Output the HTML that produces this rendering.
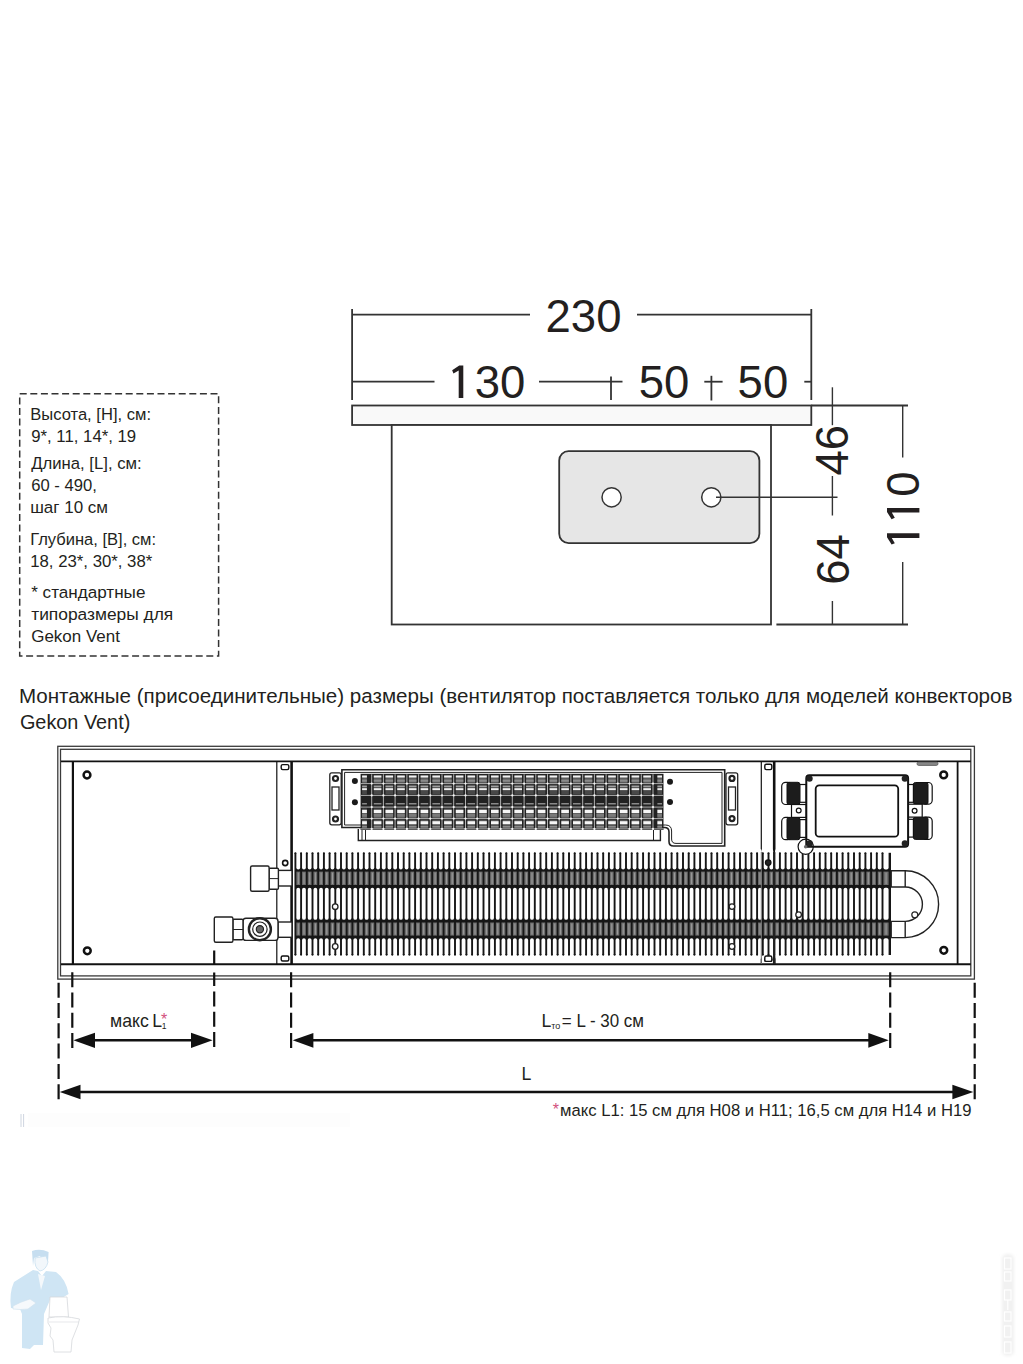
<!DOCTYPE html>
<html><head><meta charset="utf-8">
<style>
html,body{margin:0;padding:0;background:#fff;}
body{width:1023px;height:1364px;overflow:hidden;position:relative;}
svg{position:absolute;left:0;top:0;display:block;}
text{font-family:"Liberation Sans",sans-serif;fill:#231f20;}
</style></head>
<body>
<svg width="1023" height="1364" viewBox="0 0 1023 1364">
<!-- ===== TOP DIAGRAM ===== -->
<g id="top" stroke="#333" stroke-width="1.8" fill="none">
  <!-- 230 dimension -->
  <line x1="352" y1="314.6" x2="530" y2="314.6"/>
  <line x1="637" y1="314.6" x2="811.3" y2="314.6"/>
  <line x1="352.1" y1="309" x2="352.1" y2="400"/>
  <line x1="811.3" y1="309" x2="811.3" y2="400"/>
  <!-- 130 / 50 / 50 dimension -->
  <line x1="352" y1="381.7" x2="434.5" y2="381.7"/>
  <line x1="539" y1="381.7" x2="622.5" y2="381.7"/>
  <line x1="611" y1="376.6" x2="611" y2="400"/>
  <line x1="704.3" y1="381.7" x2="722.6" y2="381.7"/>
  <line x1="711.4" y1="375.8" x2="711.4" y2="400.5"/>
  <line x1="804.3" y1="381.7" x2="811.3" y2="381.7"/>
  <!-- plate -->
  <rect x="352.1" y="405.5" width="459.2" height="19.5" fill="#f9f9f9"/>
  <line x1="811.3" y1="405.5" x2="908" y2="405.5"/>
  <!-- body -->
  <rect x="391.7" y="425" width="379.3" height="199.5" fill="#fff"/>
  <line x1="776.4" y1="624.5" x2="908" y2="624.5"/>
  <!-- gray plate with holes -->
  <rect x="559.2" y="451.1" width="200.2" height="92" rx="9.4" fill="#e6e6e6"/>
  <circle cx="611.6" cy="497.3" r="9.6" fill="#fff" stroke-width="1.5"/>
  <circle cx="711.3" cy="497.3" r="9.6" fill="#fff" stroke-width="1.5"/>
  <line x1="716" y1="497.3" x2="837.5" y2="497.3" stroke-width="1.5"/>
  <!-- 46/64 dim -->
  <line x1="832.4" y1="387.3" x2="832.4" y2="425.2" stroke-width="1.4"/>
  <line x1="832.4" y1="476" x2="832.4" y2="515.5" stroke-width="1.4"/>
  <line x1="832.4" y1="601" x2="832.4" y2="624.5" stroke-width="1.4"/>
  <!-- 110 dim -->
  <line x1="902.7" y1="405.5" x2="902.7" y2="457.6" stroke-width="1.4"/>
  <line x1="902.7" y1="562" x2="902.7" y2="624.5" stroke-width="1.4"/>
</g>
<g id="topnums" font-size="45.5">
  <text x="583.5" y="331.6" text-anchor="middle">230</text>
  <text x="474.65" y="398">30</text>
  <path transform="translate(0,398)" d="M463.30 -32.4V0H458.70V-27.6L453.45 -24.6L452.15 -27.8L459.25 -32.4Z" fill="#231f20"/>
  <text x="664" y="398.4" text-anchor="middle">50</text>
  <text x="762.9" y="398.4" text-anchor="middle">50</text>
  <text transform="translate(848.3,450.2) rotate(-90)" text-anchor="middle">46</text>
  <text transform="translate(849,559.4) rotate(-90)" text-anchor="middle">64</text>
  <g transform="translate(919.4,509.3) rotate(-90)"><text x="12.65" y="0">0</text><path d="M-24.00 -32.4V0H-28.60V-27.6L-33.85 -24.6L-35.15 -27.8L-28.05 -32.4ZM1.30 -32.4V0H-3.30V-27.6L-8.55 -24.6L-9.85 -27.8L-2.75 -32.4Z" fill="#231f20"/></g>
</g>

<!-- ===== INFO BOX ===== -->
<rect x="19.7" y="393.8" width="198.9" height="262.2" fill="none" stroke="#333" stroke-width="1.5" stroke-dasharray="7 3.6"/>
<g id="info" font-size="16.3">
  <text id="i0" x="30.2" y="419.7" textLength="120.8" lengthAdjust="spacingAndGlyphs">Высота, [H], см:</text>
  <text id="i1" x="31.2" y="441.6" textLength="105.0" lengthAdjust="spacingAndGlyphs">9*, 11, 14*, 19</text>
  <text id="i2" x="31.2" y="468.5" textLength="110.5" lengthAdjust="spacingAndGlyphs">Длина, [L], см:</text>
  <text id="i3" x="31.2" y="490.7" textLength="65.6" lengthAdjust="spacingAndGlyphs">60 - 490,</text>
  <text id="i4" x="30.2" y="512.6" textLength="77.8" lengthAdjust="spacingAndGlyphs">шаг 10 см</text>
  <text id="i5" x="30.2" y="545" textLength="125.9" lengthAdjust="spacingAndGlyphs">Глубина, [B], см:</text>
  <text id="i6" x="30.2" y="566.9" textLength="122.1" lengthAdjust="spacingAndGlyphs">18, 23*, 30*, 38*</text>
  <text id="i7" x="31.2" y="597.7" textLength="114.2" lengthAdjust="spacingAndGlyphs">* стандартные</text>
  <text id="i8" x="31.2" y="619.6" textLength="142.1" lengthAdjust="spacingAndGlyphs">типоразмеры для</text>
  <text id="i9" x="31.2" y="641.7" textLength="88.7" lengthAdjust="spacingAndGlyphs">Gekon Vent</text>
</g>

<!-- ===== CAPTION ===== -->
<g id="caption" font-size="20.5">
  <text id="c0" x="18.9" y="703.3" textLength="993.5" lengthAdjust="spacingAndGlyphs">Монтажные (присоединительные) размеры (вентилятор поставляется только для моделей конвекторов</text>
  <text id="c1" x="19.9" y="729.3" textLength="110.4" lengthAdjust="spacingAndGlyphs">Gekon Vent)</text>
</g>

<!-- ===== BOTTOM DIAGRAM ===== -->
<g id="frame" fill="none" stroke="#3a3a3a" stroke-width="1.3">
  <rect x="57.8" y="746.3" width="916.6" height="232.8"/>
  <rect x="60.5" y="749.3" width="910.3" height="226.6"/>
</g>
<g id="panel" fill="none" stroke="#111">
  <line x1="61" y1="761.3" x2="970.8" y2="761.3" stroke-width="1.8"/>
  <line x1="61" y1="964.2" x2="970.8" y2="964.2" stroke-width="2"/>
  <line x1="72.9" y1="761.3" x2="72.9" y2="964.2" stroke-width="2.2"/>
  <line x1="957.6" y1="761.3" x2="957.6" y2="964.2" stroke-width="1.8"/>
  <!-- left bracket strip -->
  <line x1="276.8" y1="761.3" x2="276.8" y2="964.2" stroke-width="1.2"/>
  <line x1="291.6" y1="761.3" x2="291.6" y2="964.2" stroke-width="2.6"/>
  <rect x="281.2" y="764.6" width="7.6" height="5" rx="1.5" stroke-width="1.4"/>
  <rect x="281.2" y="956" width="7.6" height="5" rx="1.5" stroke-width="1.4"/>
  <!-- right bracket strip -->
  <line x1="761.3" y1="761.3" x2="761.3" y2="964.2" stroke-width="1.2"/>
  <line x1="774.2" y1="761.3" x2="774.2" y2="964.2" stroke-width="2.6"/>
  <rect x="764.8" y="764.2" width="7" height="5.4" rx="1.5" stroke-width="1.4"/>
  <rect x="764.8" y="956" width="7" height="5.4" rx="1.5" stroke-width="1.4"/>
  <!-- right top slot -->
  <rect x="917" y="762" width="21" height="3.4" rx="1.7" fill="#888" stroke="#555" stroke-width="0.8"/>
</g>
<!-- screws -->
<g fill="#fff" stroke="#111" stroke-width="2.5">
  <circle cx="87" cy="775" r="3.4"/>
  <circle cx="87.3" cy="950.8" r="3.4"/>
  <circle cx="943.7" cy="774.9" r="3.4"/>
  <circle cx="943.8" cy="950.3" r="3.4"/>
</g>

<!-- ===== FAN UNIT ===== -->
<g id="fan" fill="none" stroke="#222" stroke-width="1.3">
  <!-- left bracket -->
  <rect x="329.8" y="772.8" width="11.4" height="52" rx="2" fill="#fff"/>
  <rect x="332" y="787" width="7" height="23" fill="#fff"/>
  <circle cx="335.5" cy="778.5" r="2.5" stroke-width="2.2" fill="#fff"/>
  <circle cx="335.5" cy="819" r="2.5" stroke-width="2.2" fill="#fff"/>
  <!-- right bracket -->
  <rect x="726" y="772.8" width="11.7" height="52" rx="2" fill="#fff"/>
  <rect x="728.5" y="787" width="7" height="23" fill="#fff"/>
  <circle cx="732" cy="778.4" r="2.5" stroke-width="2.2" fill="#fff"/>
  <circle cx="732" cy="818.6" r="2.5" stroke-width="2.2" fill="#fff"/>
  <!-- housing outline -->
  <path d="M341.9 769.8H724.7V846H673.5Q669 846 669 841.5V832Q669 827.5 664.5 827.5H341.9Z" fill="#fff" stroke-width="1.6"/>
  <path d="M344.6 772.4H722V843.4H676Q671.6 843.4 671.6 839V831Q671.6 825 665.5 825H344.6Z" stroke-width="1"/>
  <!-- tray -->
  <path d="M358.3 829V840.5H660.4V829" fill="#fff" stroke-width="1.4"/>
  <line x1="362" y1="829" x2="362" y2="840.5" stroke-width="1"/>
  <line x1="365.5" y1="829" x2="365.5" y2="840.5" stroke-width="1"/>
  <line x1="653.5" y1="829" x2="653.5" y2="840.5" stroke-width="1"/>
</g>
<rect x="360.6" y="773.8" width="302.9" height="56.2" fill="#222"/>
<g><rect x="362.1" y="775.0" width="4.8" height="8.0" fill="#5a5a5a"/><rect x="362.1" y="784.8" width="4.8" height="9.6" fill="#484848"/><rect x="362.1" y="808.6" width="4.8" height="9.4" fill="#5a5a5a"/><rect x="362.1" y="819.8" width="4.8" height="8.6" fill="#555"/><rect x="362.1" y="775.6" width="4.8" height="1.9" fill="#f2f2f2"/><rect x="362.1" y="779.6" width="4.8" height="2.2" fill="#8a8a8a"/><rect x="362.1" y="785.7" width="4.8" height="1.5" fill="#a0a0a0"/><rect x="362.1" y="788.2" width="4.8" height="1.9" fill="#eeeeee"/><rect x="362.1" y="803.0" width="4.8" height="1.5" fill="#8a8a8a"/><rect x="362.1" y="809.9" width="4.8" height="3.1" fill="#f6f6f6"/><rect x="362.1" y="813.8" width="4.8" height="3.0" fill="#7a7a7a"/><rect x="362.1" y="821.2" width="4.8" height="3.0" fill="#f6f6f6"/><rect x="362.1" y="826.0" width="4.8" height="1.5" fill="#8a8a8a"/><rect x="373.8" y="775.0" width="7.6" height="8.0" fill="#5a5a5a"/><rect x="373.8" y="784.8" width="7.6" height="9.6" fill="#484848"/><rect x="373.8" y="808.6" width="7.6" height="9.4" fill="#5a5a5a"/><rect x="373.8" y="819.8" width="7.6" height="8.6" fill="#555"/><rect x="373.8" y="775.6" width="7.6" height="1.9" fill="#f2f2f2"/><rect x="373.8" y="779.6" width="7.6" height="2.2" fill="#8a8a8a"/><rect x="373.8" y="785.7" width="7.6" height="1.5" fill="#a0a0a0"/><rect x="373.8" y="788.2" width="7.6" height="1.9" fill="#eeeeee"/><rect x="373.8" y="803.0" width="7.6" height="1.5" fill="#8a8a8a"/><rect x="373.8" y="809.9" width="7.6" height="3.1" fill="#f6f6f6"/><rect x="373.8" y="813.8" width="7.6" height="3.0" fill="#7a7a7a"/><rect x="373.8" y="821.2" width="7.6" height="3.0" fill="#f6f6f6"/><rect x="373.8" y="826.0" width="7.6" height="1.5" fill="#8a8a8a"/><rect x="385.5" y="775.0" width="7.6" height="8.0" fill="#5a5a5a"/><rect x="385.5" y="784.8" width="7.6" height="9.6" fill="#484848"/><rect x="385.5" y="808.6" width="7.6" height="9.4" fill="#5a5a5a"/><rect x="385.5" y="819.8" width="7.6" height="8.6" fill="#555"/><rect x="385.5" y="775.6" width="7.6" height="1.9" fill="#f2f2f2"/><rect x="385.5" y="779.6" width="7.6" height="2.2" fill="#8a8a8a"/><rect x="385.5" y="785.7" width="7.6" height="1.5" fill="#a0a0a0"/><rect x="385.5" y="788.2" width="7.6" height="1.9" fill="#eeeeee"/><rect x="385.5" y="803.0" width="7.6" height="1.5" fill="#8a8a8a"/><rect x="385.5" y="809.9" width="7.6" height="3.1" fill="#f6f6f6"/><rect x="385.5" y="813.8" width="7.6" height="3.0" fill="#7a7a7a"/><rect x="385.5" y="821.2" width="7.6" height="3.0" fill="#f6f6f6"/><rect x="385.5" y="826.0" width="7.6" height="1.5" fill="#8a8a8a"/><rect x="397.2" y="775.0" width="7.6" height="8.0" fill="#5a5a5a"/><rect x="397.2" y="784.8" width="7.6" height="9.6" fill="#484848"/><rect x="397.2" y="808.6" width="7.6" height="9.4" fill="#5a5a5a"/><rect x="397.2" y="819.8" width="7.6" height="8.6" fill="#555"/><rect x="397.2" y="775.6" width="7.6" height="1.9" fill="#f2f2f2"/><rect x="397.2" y="779.6" width="7.6" height="2.2" fill="#8a8a8a"/><rect x="397.2" y="785.7" width="7.6" height="1.5" fill="#a0a0a0"/><rect x="397.2" y="788.2" width="7.6" height="1.9" fill="#eeeeee"/><rect x="397.2" y="803.0" width="7.6" height="1.5" fill="#8a8a8a"/><rect x="397.2" y="809.9" width="7.6" height="3.1" fill="#f6f6f6"/><rect x="397.2" y="813.8" width="7.6" height="3.0" fill="#7a7a7a"/><rect x="397.2" y="821.2" width="7.6" height="3.0" fill="#f6f6f6"/><rect x="397.2" y="826.0" width="7.6" height="1.5" fill="#8a8a8a"/><rect x="408.9" y="775.0" width="7.6" height="8.0" fill="#5a5a5a"/><rect x="408.9" y="784.8" width="7.6" height="9.6" fill="#484848"/><rect x="408.9" y="808.6" width="7.6" height="9.4" fill="#5a5a5a"/><rect x="408.9" y="819.8" width="7.6" height="8.6" fill="#555"/><rect x="408.9" y="775.6" width="7.6" height="1.9" fill="#f2f2f2"/><rect x="408.9" y="779.6" width="7.6" height="2.2" fill="#8a8a8a"/><rect x="408.9" y="785.7" width="7.6" height="1.5" fill="#a0a0a0"/><rect x="408.9" y="788.2" width="7.6" height="1.9" fill="#eeeeee"/><rect x="408.9" y="803.0" width="7.6" height="1.5" fill="#8a8a8a"/><rect x="408.9" y="809.9" width="7.6" height="3.1" fill="#f6f6f6"/><rect x="408.9" y="813.8" width="7.6" height="3.0" fill="#7a7a7a"/><rect x="408.9" y="821.2" width="7.6" height="3.0" fill="#f6f6f6"/><rect x="408.9" y="826.0" width="7.6" height="1.5" fill="#8a8a8a"/><rect x="420.6" y="775.0" width="7.6" height="8.0" fill="#5a5a5a"/><rect x="420.6" y="784.8" width="7.6" height="9.6" fill="#484848"/><rect x="420.6" y="808.6" width="7.6" height="9.4" fill="#5a5a5a"/><rect x="420.6" y="819.8" width="7.6" height="8.6" fill="#555"/><rect x="420.6" y="775.6" width="7.6" height="1.9" fill="#f2f2f2"/><rect x="420.6" y="779.6" width="7.6" height="2.2" fill="#8a8a8a"/><rect x="420.6" y="785.7" width="7.6" height="1.5" fill="#a0a0a0"/><rect x="420.6" y="788.2" width="7.6" height="1.9" fill="#eeeeee"/><rect x="420.6" y="803.0" width="7.6" height="1.5" fill="#8a8a8a"/><rect x="420.6" y="809.9" width="7.6" height="3.1" fill="#f6f6f6"/><rect x="420.6" y="813.8" width="7.6" height="3.0" fill="#7a7a7a"/><rect x="420.6" y="821.2" width="7.6" height="3.0" fill="#f6f6f6"/><rect x="420.6" y="826.0" width="7.6" height="1.5" fill="#8a8a8a"/><rect x="432.4" y="775.0" width="7.6" height="8.0" fill="#5a5a5a"/><rect x="432.4" y="784.8" width="7.6" height="9.6" fill="#484848"/><rect x="432.4" y="808.6" width="7.6" height="9.4" fill="#5a5a5a"/><rect x="432.4" y="819.8" width="7.6" height="8.6" fill="#555"/><rect x="432.4" y="775.6" width="7.6" height="1.9" fill="#f2f2f2"/><rect x="432.4" y="779.6" width="7.6" height="2.2" fill="#8a8a8a"/><rect x="432.4" y="785.7" width="7.6" height="1.5" fill="#a0a0a0"/><rect x="432.4" y="788.2" width="7.6" height="1.9" fill="#eeeeee"/><rect x="432.4" y="803.0" width="7.6" height="1.5" fill="#8a8a8a"/><rect x="432.4" y="809.9" width="7.6" height="3.1" fill="#f6f6f6"/><rect x="432.4" y="813.8" width="7.6" height="3.0" fill="#7a7a7a"/><rect x="432.4" y="821.2" width="7.6" height="3.0" fill="#f6f6f6"/><rect x="432.4" y="826.0" width="7.6" height="1.5" fill="#8a8a8a"/><rect x="444.1" y="775.0" width="7.6" height="8.0" fill="#5a5a5a"/><rect x="444.1" y="784.8" width="7.6" height="9.6" fill="#484848"/><rect x="444.1" y="808.6" width="7.6" height="9.4" fill="#5a5a5a"/><rect x="444.1" y="819.8" width="7.6" height="8.6" fill="#555"/><rect x="444.1" y="775.6" width="7.6" height="1.9" fill="#f2f2f2"/><rect x="444.1" y="779.6" width="7.6" height="2.2" fill="#8a8a8a"/><rect x="444.1" y="785.7" width="7.6" height="1.5" fill="#a0a0a0"/><rect x="444.1" y="788.2" width="7.6" height="1.9" fill="#eeeeee"/><rect x="444.1" y="803.0" width="7.6" height="1.5" fill="#8a8a8a"/><rect x="444.1" y="809.9" width="7.6" height="3.1" fill="#f6f6f6"/><rect x="444.1" y="813.8" width="7.6" height="3.0" fill="#7a7a7a"/><rect x="444.1" y="821.2" width="7.6" height="3.0" fill="#f6f6f6"/><rect x="444.1" y="826.0" width="7.6" height="1.5" fill="#8a8a8a"/><rect x="455.8" y="775.0" width="7.6" height="8.0" fill="#5a5a5a"/><rect x="455.8" y="784.8" width="7.6" height="9.6" fill="#484848"/><rect x="455.8" y="808.6" width="7.6" height="9.4" fill="#5a5a5a"/><rect x="455.8" y="819.8" width="7.6" height="8.6" fill="#555"/><rect x="455.8" y="775.6" width="7.6" height="1.9" fill="#f2f2f2"/><rect x="455.8" y="779.6" width="7.6" height="2.2" fill="#8a8a8a"/><rect x="455.8" y="785.7" width="7.6" height="1.5" fill="#a0a0a0"/><rect x="455.8" y="788.2" width="7.6" height="1.9" fill="#eeeeee"/><rect x="455.8" y="803.0" width="7.6" height="1.5" fill="#8a8a8a"/><rect x="455.8" y="809.9" width="7.6" height="3.1" fill="#f6f6f6"/><rect x="455.8" y="813.8" width="7.6" height="3.0" fill="#7a7a7a"/><rect x="455.8" y="821.2" width="7.6" height="3.0" fill="#f6f6f6"/><rect x="455.8" y="826.0" width="7.6" height="1.5" fill="#8a8a8a"/><rect x="467.5" y="775.0" width="7.6" height="8.0" fill="#5a5a5a"/><rect x="467.5" y="784.8" width="7.6" height="9.6" fill="#484848"/><rect x="467.5" y="808.6" width="7.6" height="9.4" fill="#5a5a5a"/><rect x="467.5" y="819.8" width="7.6" height="8.6" fill="#555"/><rect x="467.5" y="775.6" width="7.6" height="1.9" fill="#f2f2f2"/><rect x="467.5" y="779.6" width="7.6" height="2.2" fill="#8a8a8a"/><rect x="467.5" y="785.7" width="7.6" height="1.5" fill="#a0a0a0"/><rect x="467.5" y="788.2" width="7.6" height="1.9" fill="#eeeeee"/><rect x="467.5" y="803.0" width="7.6" height="1.5" fill="#8a8a8a"/><rect x="467.5" y="809.9" width="7.6" height="3.1" fill="#f6f6f6"/><rect x="467.5" y="813.8" width="7.6" height="3.0" fill="#7a7a7a"/><rect x="467.5" y="821.2" width="7.6" height="3.0" fill="#f6f6f6"/><rect x="467.5" y="826.0" width="7.6" height="1.5" fill="#8a8a8a"/><rect x="479.2" y="775.0" width="7.6" height="8.0" fill="#5a5a5a"/><rect x="479.2" y="784.8" width="7.6" height="9.6" fill="#484848"/><rect x="479.2" y="808.6" width="7.6" height="9.4" fill="#5a5a5a"/><rect x="479.2" y="819.8" width="7.6" height="8.6" fill="#555"/><rect x="479.2" y="775.6" width="7.6" height="1.9" fill="#f2f2f2"/><rect x="479.2" y="779.6" width="7.6" height="2.2" fill="#8a8a8a"/><rect x="479.2" y="785.7" width="7.6" height="1.5" fill="#a0a0a0"/><rect x="479.2" y="788.2" width="7.6" height="1.9" fill="#eeeeee"/><rect x="479.2" y="803.0" width="7.6" height="1.5" fill="#8a8a8a"/><rect x="479.2" y="809.9" width="7.6" height="3.1" fill="#f6f6f6"/><rect x="479.2" y="813.8" width="7.6" height="3.0" fill="#7a7a7a"/><rect x="479.2" y="821.2" width="7.6" height="3.0" fill="#f6f6f6"/><rect x="479.2" y="826.0" width="7.6" height="1.5" fill="#8a8a8a"/><rect x="491.0" y="775.0" width="7.6" height="8.0" fill="#5a5a5a"/><rect x="491.0" y="784.8" width="7.6" height="9.6" fill="#484848"/><rect x="491.0" y="808.6" width="7.6" height="9.4" fill="#5a5a5a"/><rect x="491.0" y="819.8" width="7.6" height="8.6" fill="#555"/><rect x="491.0" y="775.6" width="7.6" height="1.9" fill="#f2f2f2"/><rect x="491.0" y="779.6" width="7.6" height="2.2" fill="#8a8a8a"/><rect x="491.0" y="785.7" width="7.6" height="1.5" fill="#a0a0a0"/><rect x="491.0" y="788.2" width="7.6" height="1.9" fill="#eeeeee"/><rect x="491.0" y="803.0" width="7.6" height="1.5" fill="#8a8a8a"/><rect x="491.0" y="809.9" width="7.6" height="3.1" fill="#f6f6f6"/><rect x="491.0" y="813.8" width="7.6" height="3.0" fill="#7a7a7a"/><rect x="491.0" y="821.2" width="7.6" height="3.0" fill="#f6f6f6"/><rect x="491.0" y="826.0" width="7.6" height="1.5" fill="#8a8a8a"/><rect x="502.7" y="775.0" width="7.6" height="8.0" fill="#5a5a5a"/><rect x="502.7" y="784.8" width="7.6" height="9.6" fill="#484848"/><rect x="502.7" y="808.6" width="7.6" height="9.4" fill="#5a5a5a"/><rect x="502.7" y="819.8" width="7.6" height="8.6" fill="#555"/><rect x="502.7" y="775.6" width="7.6" height="1.9" fill="#f2f2f2"/><rect x="502.7" y="779.6" width="7.6" height="2.2" fill="#8a8a8a"/><rect x="502.7" y="785.7" width="7.6" height="1.5" fill="#a0a0a0"/><rect x="502.7" y="788.2" width="7.6" height="1.9" fill="#eeeeee"/><rect x="502.7" y="803.0" width="7.6" height="1.5" fill="#8a8a8a"/><rect x="502.7" y="809.9" width="7.6" height="3.1" fill="#f6f6f6"/><rect x="502.7" y="813.8" width="7.6" height="3.0" fill="#7a7a7a"/><rect x="502.7" y="821.2" width="7.6" height="3.0" fill="#f6f6f6"/><rect x="502.7" y="826.0" width="7.6" height="1.5" fill="#8a8a8a"/><rect x="514.4" y="775.0" width="7.6" height="8.0" fill="#5a5a5a"/><rect x="514.4" y="784.8" width="7.6" height="9.6" fill="#484848"/><rect x="514.4" y="808.6" width="7.6" height="9.4" fill="#5a5a5a"/><rect x="514.4" y="819.8" width="7.6" height="8.6" fill="#555"/><rect x="514.4" y="775.6" width="7.6" height="1.9" fill="#f2f2f2"/><rect x="514.4" y="779.6" width="7.6" height="2.2" fill="#8a8a8a"/><rect x="514.4" y="785.7" width="7.6" height="1.5" fill="#a0a0a0"/><rect x="514.4" y="788.2" width="7.6" height="1.9" fill="#eeeeee"/><rect x="514.4" y="803.0" width="7.6" height="1.5" fill="#8a8a8a"/><rect x="514.4" y="809.9" width="7.6" height="3.1" fill="#f6f6f6"/><rect x="514.4" y="813.8" width="7.6" height="3.0" fill="#7a7a7a"/><rect x="514.4" y="821.2" width="7.6" height="3.0" fill="#f6f6f6"/><rect x="514.4" y="826.0" width="7.6" height="1.5" fill="#8a8a8a"/><rect x="526.1" y="775.0" width="7.6" height="8.0" fill="#5a5a5a"/><rect x="526.1" y="784.8" width="7.6" height="9.6" fill="#484848"/><rect x="526.1" y="808.6" width="7.6" height="9.4" fill="#5a5a5a"/><rect x="526.1" y="819.8" width="7.6" height="8.6" fill="#555"/><rect x="526.1" y="775.6" width="7.6" height="1.9" fill="#f2f2f2"/><rect x="526.1" y="779.6" width="7.6" height="2.2" fill="#8a8a8a"/><rect x="526.1" y="785.7" width="7.6" height="1.5" fill="#a0a0a0"/><rect x="526.1" y="788.2" width="7.6" height="1.9" fill="#eeeeee"/><rect x="526.1" y="803.0" width="7.6" height="1.5" fill="#8a8a8a"/><rect x="526.1" y="809.9" width="7.6" height="3.1" fill="#f6f6f6"/><rect x="526.1" y="813.8" width="7.6" height="3.0" fill="#7a7a7a"/><rect x="526.1" y="821.2" width="7.6" height="3.0" fill="#f6f6f6"/><rect x="526.1" y="826.0" width="7.6" height="1.5" fill="#8a8a8a"/><rect x="537.8" y="775.0" width="7.6" height="8.0" fill="#5a5a5a"/><rect x="537.8" y="784.8" width="7.6" height="9.6" fill="#484848"/><rect x="537.8" y="808.6" width="7.6" height="9.4" fill="#5a5a5a"/><rect x="537.8" y="819.8" width="7.6" height="8.6" fill="#555"/><rect x="537.8" y="775.6" width="7.6" height="1.9" fill="#f2f2f2"/><rect x="537.8" y="779.6" width="7.6" height="2.2" fill="#8a8a8a"/><rect x="537.8" y="785.7" width="7.6" height="1.5" fill="#a0a0a0"/><rect x="537.8" y="788.2" width="7.6" height="1.9" fill="#eeeeee"/><rect x="537.8" y="803.0" width="7.6" height="1.5" fill="#8a8a8a"/><rect x="537.8" y="809.9" width="7.6" height="3.1" fill="#f6f6f6"/><rect x="537.8" y="813.8" width="7.6" height="3.0" fill="#7a7a7a"/><rect x="537.8" y="821.2" width="7.6" height="3.0" fill="#f6f6f6"/><rect x="537.8" y="826.0" width="7.6" height="1.5" fill="#8a8a8a"/><rect x="549.6" y="775.0" width="7.6" height="8.0" fill="#5a5a5a"/><rect x="549.6" y="784.8" width="7.6" height="9.6" fill="#484848"/><rect x="549.6" y="808.6" width="7.6" height="9.4" fill="#5a5a5a"/><rect x="549.6" y="819.8" width="7.6" height="8.6" fill="#555"/><rect x="549.6" y="775.6" width="7.6" height="1.9" fill="#f2f2f2"/><rect x="549.6" y="779.6" width="7.6" height="2.2" fill="#8a8a8a"/><rect x="549.6" y="785.7" width="7.6" height="1.5" fill="#a0a0a0"/><rect x="549.6" y="788.2" width="7.6" height="1.9" fill="#eeeeee"/><rect x="549.6" y="803.0" width="7.6" height="1.5" fill="#8a8a8a"/><rect x="549.6" y="809.9" width="7.6" height="3.1" fill="#f6f6f6"/><rect x="549.6" y="813.8" width="7.6" height="3.0" fill="#7a7a7a"/><rect x="549.6" y="821.2" width="7.6" height="3.0" fill="#f6f6f6"/><rect x="549.6" y="826.0" width="7.6" height="1.5" fill="#8a8a8a"/><rect x="561.3" y="775.0" width="7.6" height="8.0" fill="#5a5a5a"/><rect x="561.3" y="784.8" width="7.6" height="9.6" fill="#484848"/><rect x="561.3" y="808.6" width="7.6" height="9.4" fill="#5a5a5a"/><rect x="561.3" y="819.8" width="7.6" height="8.6" fill="#555"/><rect x="561.3" y="775.6" width="7.6" height="1.9" fill="#f2f2f2"/><rect x="561.3" y="779.6" width="7.6" height="2.2" fill="#8a8a8a"/><rect x="561.3" y="785.7" width="7.6" height="1.5" fill="#a0a0a0"/><rect x="561.3" y="788.2" width="7.6" height="1.9" fill="#eeeeee"/><rect x="561.3" y="803.0" width="7.6" height="1.5" fill="#8a8a8a"/><rect x="561.3" y="809.9" width="7.6" height="3.1" fill="#f6f6f6"/><rect x="561.3" y="813.8" width="7.6" height="3.0" fill="#7a7a7a"/><rect x="561.3" y="821.2" width="7.6" height="3.0" fill="#f6f6f6"/><rect x="561.3" y="826.0" width="7.6" height="1.5" fill="#8a8a8a"/><rect x="573.0" y="775.0" width="7.6" height="8.0" fill="#5a5a5a"/><rect x="573.0" y="784.8" width="7.6" height="9.6" fill="#484848"/><rect x="573.0" y="808.6" width="7.6" height="9.4" fill="#5a5a5a"/><rect x="573.0" y="819.8" width="7.6" height="8.6" fill="#555"/><rect x="573.0" y="775.6" width="7.6" height="1.9" fill="#f2f2f2"/><rect x="573.0" y="779.6" width="7.6" height="2.2" fill="#8a8a8a"/><rect x="573.0" y="785.7" width="7.6" height="1.5" fill="#a0a0a0"/><rect x="573.0" y="788.2" width="7.6" height="1.9" fill="#eeeeee"/><rect x="573.0" y="803.0" width="7.6" height="1.5" fill="#8a8a8a"/><rect x="573.0" y="809.9" width="7.6" height="3.1" fill="#f6f6f6"/><rect x="573.0" y="813.8" width="7.6" height="3.0" fill="#7a7a7a"/><rect x="573.0" y="821.2" width="7.6" height="3.0" fill="#f6f6f6"/><rect x="573.0" y="826.0" width="7.6" height="1.5" fill="#8a8a8a"/><rect x="584.7" y="775.0" width="7.6" height="8.0" fill="#5a5a5a"/><rect x="584.7" y="784.8" width="7.6" height="9.6" fill="#484848"/><rect x="584.7" y="808.6" width="7.6" height="9.4" fill="#5a5a5a"/><rect x="584.7" y="819.8" width="7.6" height="8.6" fill="#555"/><rect x="584.7" y="775.6" width="7.6" height="1.9" fill="#f2f2f2"/><rect x="584.7" y="779.6" width="7.6" height="2.2" fill="#8a8a8a"/><rect x="584.7" y="785.7" width="7.6" height="1.5" fill="#a0a0a0"/><rect x="584.7" y="788.2" width="7.6" height="1.9" fill="#eeeeee"/><rect x="584.7" y="803.0" width="7.6" height="1.5" fill="#8a8a8a"/><rect x="584.7" y="809.9" width="7.6" height="3.1" fill="#f6f6f6"/><rect x="584.7" y="813.8" width="7.6" height="3.0" fill="#7a7a7a"/><rect x="584.7" y="821.2" width="7.6" height="3.0" fill="#f6f6f6"/><rect x="584.7" y="826.0" width="7.6" height="1.5" fill="#8a8a8a"/><rect x="596.4" y="775.0" width="7.6" height="8.0" fill="#5a5a5a"/><rect x="596.4" y="784.8" width="7.6" height="9.6" fill="#484848"/><rect x="596.4" y="808.6" width="7.6" height="9.4" fill="#5a5a5a"/><rect x="596.4" y="819.8" width="7.6" height="8.6" fill="#555"/><rect x="596.4" y="775.6" width="7.6" height="1.9" fill="#f2f2f2"/><rect x="596.4" y="779.6" width="7.6" height="2.2" fill="#8a8a8a"/><rect x="596.4" y="785.7" width="7.6" height="1.5" fill="#a0a0a0"/><rect x="596.4" y="788.2" width="7.6" height="1.9" fill="#eeeeee"/><rect x="596.4" y="803.0" width="7.6" height="1.5" fill="#8a8a8a"/><rect x="596.4" y="809.9" width="7.6" height="3.1" fill="#f6f6f6"/><rect x="596.4" y="813.8" width="7.6" height="3.0" fill="#7a7a7a"/><rect x="596.4" y="821.2" width="7.6" height="3.0" fill="#f6f6f6"/><rect x="596.4" y="826.0" width="7.6" height="1.5" fill="#8a8a8a"/><rect x="608.2" y="775.0" width="7.6" height="8.0" fill="#5a5a5a"/><rect x="608.2" y="784.8" width="7.6" height="9.6" fill="#484848"/><rect x="608.2" y="808.6" width="7.6" height="9.4" fill="#5a5a5a"/><rect x="608.2" y="819.8" width="7.6" height="8.6" fill="#555"/><rect x="608.2" y="775.6" width="7.6" height="1.9" fill="#f2f2f2"/><rect x="608.2" y="779.6" width="7.6" height="2.2" fill="#8a8a8a"/><rect x="608.2" y="785.7" width="7.6" height="1.5" fill="#a0a0a0"/><rect x="608.2" y="788.2" width="7.6" height="1.9" fill="#eeeeee"/><rect x="608.2" y="803.0" width="7.6" height="1.5" fill="#8a8a8a"/><rect x="608.2" y="809.9" width="7.6" height="3.1" fill="#f6f6f6"/><rect x="608.2" y="813.8" width="7.6" height="3.0" fill="#7a7a7a"/><rect x="608.2" y="821.2" width="7.6" height="3.0" fill="#f6f6f6"/><rect x="608.2" y="826.0" width="7.6" height="1.5" fill="#8a8a8a"/><rect x="619.9" y="775.0" width="7.6" height="8.0" fill="#5a5a5a"/><rect x="619.9" y="784.8" width="7.6" height="9.6" fill="#484848"/><rect x="619.9" y="808.6" width="7.6" height="9.4" fill="#5a5a5a"/><rect x="619.9" y="819.8" width="7.6" height="8.6" fill="#555"/><rect x="619.9" y="775.6" width="7.6" height="1.9" fill="#f2f2f2"/><rect x="619.9" y="779.6" width="7.6" height="2.2" fill="#8a8a8a"/><rect x="619.9" y="785.7" width="7.6" height="1.5" fill="#a0a0a0"/><rect x="619.9" y="788.2" width="7.6" height="1.9" fill="#eeeeee"/><rect x="619.9" y="803.0" width="7.6" height="1.5" fill="#8a8a8a"/><rect x="619.9" y="809.9" width="7.6" height="3.1" fill="#f6f6f6"/><rect x="619.9" y="813.8" width="7.6" height="3.0" fill="#7a7a7a"/><rect x="619.9" y="821.2" width="7.6" height="3.0" fill="#f6f6f6"/><rect x="619.9" y="826.0" width="7.6" height="1.5" fill="#8a8a8a"/><rect x="631.6" y="775.0" width="7.6" height="8.0" fill="#5a5a5a"/><rect x="631.6" y="784.8" width="7.6" height="9.6" fill="#484848"/><rect x="631.6" y="808.6" width="7.6" height="9.4" fill="#5a5a5a"/><rect x="631.6" y="819.8" width="7.6" height="8.6" fill="#555"/><rect x="631.6" y="775.6" width="7.6" height="1.9" fill="#f2f2f2"/><rect x="631.6" y="779.6" width="7.6" height="2.2" fill="#8a8a8a"/><rect x="631.6" y="785.7" width="7.6" height="1.5" fill="#a0a0a0"/><rect x="631.6" y="788.2" width="7.6" height="1.9" fill="#eeeeee"/><rect x="631.6" y="803.0" width="7.6" height="1.5" fill="#8a8a8a"/><rect x="631.6" y="809.9" width="7.6" height="3.1" fill="#f6f6f6"/><rect x="631.6" y="813.8" width="7.6" height="3.0" fill="#7a7a7a"/><rect x="631.6" y="821.2" width="7.6" height="3.0" fill="#f6f6f6"/><rect x="631.6" y="826.0" width="7.6" height="1.5" fill="#8a8a8a"/><rect x="643.3" y="775.0" width="7.6" height="8.0" fill="#5a5a5a"/><rect x="643.3" y="784.8" width="7.6" height="9.6" fill="#484848"/><rect x="643.3" y="808.6" width="7.6" height="9.4" fill="#5a5a5a"/><rect x="643.3" y="819.8" width="7.6" height="8.6" fill="#555"/><rect x="643.3" y="775.6" width="7.6" height="1.9" fill="#f2f2f2"/><rect x="643.3" y="779.6" width="7.6" height="2.2" fill="#8a8a8a"/><rect x="643.3" y="785.7" width="7.6" height="1.5" fill="#a0a0a0"/><rect x="643.3" y="788.2" width="7.6" height="1.9" fill="#eeeeee"/><rect x="643.3" y="803.0" width="7.6" height="1.5" fill="#8a8a8a"/><rect x="643.3" y="809.9" width="7.6" height="3.1" fill="#f6f6f6"/><rect x="643.3" y="813.8" width="7.6" height="3.0" fill="#7a7a7a"/><rect x="643.3" y="821.2" width="7.6" height="3.0" fill="#f6f6f6"/><rect x="643.3" y="826.0" width="7.6" height="1.5" fill="#8a8a8a"/><rect x="657.4" y="775.0" width="4.6" height="8.0" fill="#5a5a5a"/><rect x="657.4" y="784.8" width="4.6" height="9.6" fill="#484848"/><rect x="657.4" y="808.6" width="4.6" height="9.4" fill="#5a5a5a"/><rect x="657.4" y="819.8" width="4.6" height="8.6" fill="#555"/><rect x="657.4" y="775.6" width="4.6" height="1.9" fill="#f2f2f2"/><rect x="657.4" y="779.6" width="4.6" height="2.2" fill="#8a8a8a"/><rect x="657.4" y="785.7" width="4.6" height="1.5" fill="#a0a0a0"/><rect x="657.4" y="788.2" width="4.6" height="1.9" fill="#eeeeee"/><rect x="657.4" y="803.0" width="4.6" height="1.5" fill="#8a8a8a"/><rect x="657.4" y="809.9" width="4.6" height="3.1" fill="#f6f6f6"/><rect x="657.4" y="813.8" width="4.6" height="3.0" fill="#7a7a7a"/><rect x="657.4" y="821.2" width="4.6" height="3.0" fill="#f6f6f6"/><rect x="657.4" y="826.0" width="4.6" height="1.5" fill="#8a8a8a"/></g>
<path d="M371.7 774.3V829.5M383.4 774.3V829.5M395.1 774.3V829.5M406.9 774.3V829.5M418.6 774.3V829.5M430.3 774.3V829.5M442.0 774.3V829.5M453.7 774.3V829.5M465.5 774.3V829.5M477.2 774.3V829.5M488.9 774.3V829.5M500.6 774.3V829.5M512.3 774.3V829.5M524.1 774.3V829.5M535.8 774.3V829.5M547.5 774.3V829.5M559.2 774.3V829.5M570.9 774.3V829.5M582.7 774.3V829.5M594.4 774.3V829.5M606.1 774.3V829.5M617.8 774.3V829.5M629.5 774.3V829.5M641.3 774.3V829.5M653.0 774.3V829.5M360.6 783.6H663.5M360.6 795.4H663.5M360.6 807.1H663.5M360.6 818.6H663.5M360.6 828.9H663.5" stroke="#b0b0b0" stroke-width="1" fill="none"/>
<g fill="#f4f4f4"><circle cx="371.7" cy="783.6" r="1.1"/><circle cx="371.7" cy="795.4" r="1.1"/><circle cx="371.7" cy="807.1" r="1.1"/><circle cx="371.7" cy="818.6" r="1.1"/><circle cx="371.7" cy="828.9" r="1.1"/><circle cx="383.4" cy="783.6" r="1.1"/><circle cx="383.4" cy="795.4" r="1.1"/><circle cx="383.4" cy="807.1" r="1.1"/><circle cx="383.4" cy="818.6" r="1.1"/><circle cx="383.4" cy="828.9" r="1.1"/><circle cx="395.1" cy="783.6" r="1.1"/><circle cx="395.1" cy="795.4" r="1.1"/><circle cx="395.1" cy="807.1" r="1.1"/><circle cx="395.1" cy="818.6" r="1.1"/><circle cx="395.1" cy="828.9" r="1.1"/><circle cx="406.9" cy="783.6" r="1.1"/><circle cx="406.9" cy="795.4" r="1.1"/><circle cx="406.9" cy="807.1" r="1.1"/><circle cx="406.9" cy="818.6" r="1.1"/><circle cx="406.9" cy="828.9" r="1.1"/><circle cx="418.6" cy="783.6" r="1.1"/><circle cx="418.6" cy="795.4" r="1.1"/><circle cx="418.6" cy="807.1" r="1.1"/><circle cx="418.6" cy="818.6" r="1.1"/><circle cx="418.6" cy="828.9" r="1.1"/><circle cx="430.3" cy="783.6" r="1.1"/><circle cx="430.3" cy="795.4" r="1.1"/><circle cx="430.3" cy="807.1" r="1.1"/><circle cx="430.3" cy="818.6" r="1.1"/><circle cx="430.3" cy="828.9" r="1.1"/><circle cx="442.0" cy="783.6" r="1.1"/><circle cx="442.0" cy="795.4" r="1.1"/><circle cx="442.0" cy="807.1" r="1.1"/><circle cx="442.0" cy="818.6" r="1.1"/><circle cx="442.0" cy="828.9" r="1.1"/><circle cx="453.7" cy="783.6" r="1.1"/><circle cx="453.7" cy="795.4" r="1.1"/><circle cx="453.7" cy="807.1" r="1.1"/><circle cx="453.7" cy="818.6" r="1.1"/><circle cx="453.7" cy="828.9" r="1.1"/><circle cx="465.5" cy="783.6" r="1.1"/><circle cx="465.5" cy="795.4" r="1.1"/><circle cx="465.5" cy="807.1" r="1.1"/><circle cx="465.5" cy="818.6" r="1.1"/><circle cx="465.5" cy="828.9" r="1.1"/><circle cx="477.2" cy="783.6" r="1.1"/><circle cx="477.2" cy="795.4" r="1.1"/><circle cx="477.2" cy="807.1" r="1.1"/><circle cx="477.2" cy="818.6" r="1.1"/><circle cx="477.2" cy="828.9" r="1.1"/><circle cx="488.9" cy="783.6" r="1.1"/><circle cx="488.9" cy="795.4" r="1.1"/><circle cx="488.9" cy="807.1" r="1.1"/><circle cx="488.9" cy="818.6" r="1.1"/><circle cx="488.9" cy="828.9" r="1.1"/><circle cx="500.6" cy="783.6" r="1.1"/><circle cx="500.6" cy="795.4" r="1.1"/><circle cx="500.6" cy="807.1" r="1.1"/><circle cx="500.6" cy="818.6" r="1.1"/><circle cx="500.6" cy="828.9" r="1.1"/><circle cx="512.3" cy="783.6" r="1.1"/><circle cx="512.3" cy="795.4" r="1.1"/><circle cx="512.3" cy="807.1" r="1.1"/><circle cx="512.3" cy="818.6" r="1.1"/><circle cx="512.3" cy="828.9" r="1.1"/><circle cx="524.1" cy="783.6" r="1.1"/><circle cx="524.1" cy="795.4" r="1.1"/><circle cx="524.1" cy="807.1" r="1.1"/><circle cx="524.1" cy="818.6" r="1.1"/><circle cx="524.1" cy="828.9" r="1.1"/><circle cx="535.8" cy="783.6" r="1.1"/><circle cx="535.8" cy="795.4" r="1.1"/><circle cx="535.8" cy="807.1" r="1.1"/><circle cx="535.8" cy="818.6" r="1.1"/><circle cx="535.8" cy="828.9" r="1.1"/><circle cx="547.5" cy="783.6" r="1.1"/><circle cx="547.5" cy="795.4" r="1.1"/><circle cx="547.5" cy="807.1" r="1.1"/><circle cx="547.5" cy="818.6" r="1.1"/><circle cx="547.5" cy="828.9" r="1.1"/><circle cx="559.2" cy="783.6" r="1.1"/><circle cx="559.2" cy="795.4" r="1.1"/><circle cx="559.2" cy="807.1" r="1.1"/><circle cx="559.2" cy="818.6" r="1.1"/><circle cx="559.2" cy="828.9" r="1.1"/><circle cx="570.9" cy="783.6" r="1.1"/><circle cx="570.9" cy="795.4" r="1.1"/><circle cx="570.9" cy="807.1" r="1.1"/><circle cx="570.9" cy="818.6" r="1.1"/><circle cx="570.9" cy="828.9" r="1.1"/><circle cx="582.7" cy="783.6" r="1.1"/><circle cx="582.7" cy="795.4" r="1.1"/><circle cx="582.7" cy="807.1" r="1.1"/><circle cx="582.7" cy="818.6" r="1.1"/><circle cx="582.7" cy="828.9" r="1.1"/><circle cx="594.4" cy="783.6" r="1.1"/><circle cx="594.4" cy="795.4" r="1.1"/><circle cx="594.4" cy="807.1" r="1.1"/><circle cx="594.4" cy="818.6" r="1.1"/><circle cx="594.4" cy="828.9" r="1.1"/><circle cx="606.1" cy="783.6" r="1.1"/><circle cx="606.1" cy="795.4" r="1.1"/><circle cx="606.1" cy="807.1" r="1.1"/><circle cx="606.1" cy="818.6" r="1.1"/><circle cx="606.1" cy="828.9" r="1.1"/><circle cx="617.8" cy="783.6" r="1.1"/><circle cx="617.8" cy="795.4" r="1.1"/><circle cx="617.8" cy="807.1" r="1.1"/><circle cx="617.8" cy="818.6" r="1.1"/><circle cx="617.8" cy="828.9" r="1.1"/><circle cx="629.5" cy="783.6" r="1.1"/><circle cx="629.5" cy="795.4" r="1.1"/><circle cx="629.5" cy="807.1" r="1.1"/><circle cx="629.5" cy="818.6" r="1.1"/><circle cx="629.5" cy="828.9" r="1.1"/><circle cx="641.3" cy="783.6" r="1.1"/><circle cx="641.3" cy="795.4" r="1.1"/><circle cx="641.3" cy="807.1" r="1.1"/><circle cx="641.3" cy="818.6" r="1.1"/><circle cx="641.3" cy="828.9" r="1.1"/><circle cx="653.0" cy="783.6" r="1.1"/><circle cx="653.0" cy="795.4" r="1.1"/><circle cx="653.0" cy="807.1" r="1.1"/><circle cx="653.0" cy="818.6" r="1.1"/><circle cx="653.0" cy="828.9" r="1.1"/></g>
<g fill="#1a1a1a">
  <circle cx="354.9" cy="781" r="3"/>
  <circle cx="354.9" cy="802.2" r="3"/>
  <circle cx="670" cy="781.7" r="3"/>
  <circle cx="670" cy="802" r="3"/>
</g>

<!-- ===== JUNCTION BOX ===== -->
<g id="jbox" stroke="#111" fill="none">
  <!-- glands left -->
  <rect x="781.7" y="782.3" width="10" height="22.2" rx="4" fill="#fff" stroke-width="1.2"/>
  <rect x="787" y="782.3" width="12.9" height="22.2" rx="2" fill="#1c1c1c" stroke-width="1"/>
  <rect x="799.9" y="784.5" width="6.4" height="17.8" fill="#fff" stroke-width="1.2"/>
  <rect x="781.7" y="817.4" width="10" height="22.3" rx="4" fill="#fff" stroke-width="1.2"/>
  <rect x="787" y="817.4" width="12.9" height="22.3" rx="2" fill="#1c1c1c" stroke-width="1"/>
  <rect x="799.9" y="819.6" width="6.4" height="17.8" fill="#fff" stroke-width="1.2"/>
  <rect x="791.5" y="804.5" width="14.8" height="12.9" fill="#fff" stroke-width="1.2"/>
  <circle cx="798.7" cy="810.5" r="2.4" stroke-width="1.2" fill="#fff"/>
  <!-- glands right -->
  <rect x="922.2" y="782.5" width="10" height="21.7" rx="4" fill="#fff" stroke-width="1.2"/>
  <rect x="913.4" y="782.5" width="14.6" height="21.7" rx="2" fill="#1c1c1c" stroke-width="1"/>
  <rect x="908.1" y="784.5" width="5.3" height="17.8" fill="#fff" stroke-width="1.2"/>
  <rect x="922.2" y="817.1" width="10" height="22.3" rx="4" fill="#fff" stroke-width="1.2"/>
  <rect x="913.4" y="817.1" width="14.6" height="22.3" rx="2" fill="#1c1c1c" stroke-width="1"/>
  <rect x="908.1" y="819.3" width="5.3" height="17.8" fill="#fff" stroke-width="1.2"/>
  <rect x="908.1" y="804.2" width="14.1" height="12.9" fill="#fff" stroke-width="1.2"/>
  <circle cx="914.6" cy="810.7" r="2.4" stroke-width="1.2" fill="#fff"/>
  <!-- box -->
  <rect x="806.3" y="775.3" width="101.8" height="71.4" rx="3" fill="#fff" stroke-width="2"/>
  <rect x="815.7" y="785.3" width="82.5" height="51.4" rx="3.5" fill="#fff" stroke-width="1.8"/>
  <g fill="#222" stroke="none">
    <circle cx="809.5" cy="778.6" r="3.2"/>
    <circle cx="904.9" cy="778.6" r="3.2"/>
    <circle cx="809.5" cy="843.4" r="3.2"/>
    <circle cx="904.9" cy="843.4" r="3.2"/>
  </g>
</g>

<!-- ===== HEAT EXCHANGER ===== -->
<g id="hx">
  <rect x="294.45" y="852.8" width="596.55" height="102.2" fill="#161616"/>
<g><rect x="296.35" y="849.0" width="3.80" height="20.4" rx="1.9" fill="#fff"/><rect x="296.35" y="887.8" width="3.80" height="32.0" rx="1.9" fill="#fff"/><rect x="296.35" y="938.2" width="3.80" height="20.8" rx="1.9" fill="#fff"/><rect x="296.35" y="871.6" width="3.80" height="13.4" fill="#6e6e6e"/><rect x="297.75" y="872.6" width="1.1" height="11.4" fill="#9a9a9a"/><rect x="296.35" y="922.5" width="3.80" height="13.1" fill="#6e6e6e"/><rect x="297.75" y="923.5" width="1.1" height="11.1" fill="#9a9a9a"/><rect x="302.05" y="849.0" width="3.80" height="20.4" rx="1.9" fill="#fff"/><rect x="302.05" y="887.8" width="3.80" height="32.0" rx="1.9" fill="#fff"/><rect x="302.05" y="938.2" width="3.80" height="20.8" rx="1.9" fill="#fff"/><rect x="302.05" y="871.6" width="3.80" height="13.4" fill="#6e6e6e"/><rect x="303.45" y="872.6" width="1.1" height="11.4" fill="#9a9a9a"/><rect x="302.05" y="922.5" width="3.80" height="13.1" fill="#6e6e6e"/><rect x="303.45" y="923.5" width="1.1" height="11.1" fill="#9a9a9a"/><rect x="307.75" y="849.0" width="3.80" height="20.4" rx="1.9" fill="#fff"/><rect x="307.75" y="887.8" width="3.80" height="32.0" rx="1.9" fill="#fff"/><rect x="307.75" y="938.2" width="3.80" height="20.8" rx="1.9" fill="#fff"/><rect x="307.75" y="871.6" width="3.80" height="13.4" fill="#6e6e6e"/><rect x="309.15" y="872.6" width="1.1" height="11.4" fill="#9a9a9a"/><rect x="307.75" y="922.5" width="3.80" height="13.1" fill="#6e6e6e"/><rect x="309.15" y="923.5" width="1.1" height="11.1" fill="#9a9a9a"/><rect x="313.45" y="849.0" width="3.80" height="20.4" rx="1.9" fill="#fff"/><rect x="313.45" y="887.8" width="3.80" height="32.0" rx="1.9" fill="#fff"/><rect x="313.45" y="938.2" width="3.80" height="20.8" rx="1.9" fill="#fff"/><rect x="313.45" y="871.6" width="3.80" height="13.4" fill="#6e6e6e"/><rect x="314.85" y="872.6" width="1.1" height="11.4" fill="#9a9a9a"/><rect x="313.45" y="922.5" width="3.80" height="13.1" fill="#6e6e6e"/><rect x="314.85" y="923.5" width="1.1" height="11.1" fill="#9a9a9a"/><rect x="319.15" y="849.0" width="3.80" height="20.4" rx="1.9" fill="#fff"/><rect x="319.15" y="887.8" width="3.80" height="32.0" rx="1.9" fill="#fff"/><rect x="319.15" y="938.2" width="3.80" height="20.8" rx="1.9" fill="#fff"/><rect x="319.15" y="871.6" width="3.80" height="13.4" fill="#6e6e6e"/><rect x="320.55" y="872.6" width="1.1" height="11.4" fill="#9a9a9a"/><rect x="319.15" y="922.5" width="3.80" height="13.1" fill="#6e6e6e"/><rect x="320.55" y="923.5" width="1.1" height="11.1" fill="#9a9a9a"/><rect x="324.85" y="849.0" width="3.80" height="20.4" rx="1.9" fill="#fff"/><rect x="324.85" y="887.8" width="3.80" height="32.0" rx="1.9" fill="#fff"/><rect x="324.85" y="938.2" width="3.80" height="20.8" rx="1.9" fill="#fff"/><rect x="324.85" y="871.6" width="3.80" height="13.4" fill="#6e6e6e"/><rect x="326.25" y="872.6" width="1.1" height="11.4" fill="#9a9a9a"/><rect x="324.85" y="922.5" width="3.80" height="13.1" fill="#6e6e6e"/><rect x="326.25" y="923.5" width="1.1" height="11.1" fill="#9a9a9a"/><rect x="330.55" y="849.0" width="3.80" height="20.4" rx="1.9" fill="#fff"/><rect x="330.55" y="887.8" width="3.80" height="32.0" rx="1.9" fill="#fff"/><rect x="330.55" y="938.2" width="3.80" height="20.8" rx="1.9" fill="#fff"/><rect x="330.55" y="871.6" width="3.80" height="13.4" fill="#6e6e6e"/><rect x="331.95" y="872.6" width="1.1" height="11.4" fill="#9a9a9a"/><rect x="330.55" y="922.5" width="3.80" height="13.1" fill="#6e6e6e"/><rect x="331.95" y="923.5" width="1.1" height="11.1" fill="#9a9a9a"/><rect x="336.25" y="849.0" width="3.80" height="20.4" rx="1.9" fill="#fff"/><rect x="336.25" y="887.8" width="3.80" height="32.0" rx="1.9" fill="#fff"/><rect x="336.25" y="938.2" width="3.80" height="20.8" rx="1.9" fill="#fff"/><rect x="336.25" y="871.6" width="3.80" height="13.4" fill="#6e6e6e"/><rect x="337.65" y="872.6" width="1.1" height="11.4" fill="#9a9a9a"/><rect x="336.25" y="922.5" width="3.80" height="13.1" fill="#6e6e6e"/><rect x="337.65" y="923.5" width="1.1" height="11.1" fill="#9a9a9a"/><rect x="341.95" y="849.0" width="3.80" height="20.4" rx="1.9" fill="#fff"/><rect x="341.95" y="887.8" width="3.80" height="32.0" rx="1.9" fill="#fff"/><rect x="341.95" y="938.2" width="3.80" height="20.8" rx="1.9" fill="#fff"/><rect x="341.95" y="871.6" width="3.80" height="13.4" fill="#6e6e6e"/><rect x="343.35" y="872.6" width="1.1" height="11.4" fill="#9a9a9a"/><rect x="341.95" y="922.5" width="3.80" height="13.1" fill="#6e6e6e"/><rect x="343.35" y="923.5" width="1.1" height="11.1" fill="#9a9a9a"/><rect x="347.65" y="849.0" width="3.80" height="20.4" rx="1.9" fill="#fff"/><rect x="347.65" y="887.8" width="3.80" height="32.0" rx="1.9" fill="#fff"/><rect x="347.65" y="938.2" width="3.80" height="20.8" rx="1.9" fill="#fff"/><rect x="347.65" y="871.6" width="3.80" height="13.4" fill="#6e6e6e"/><rect x="349.05" y="872.6" width="1.1" height="11.4" fill="#9a9a9a"/><rect x="347.65" y="922.5" width="3.80" height="13.1" fill="#6e6e6e"/><rect x="349.05" y="923.5" width="1.1" height="11.1" fill="#9a9a9a"/><rect x="353.35" y="849.0" width="3.80" height="20.4" rx="1.9" fill="#fff"/><rect x="353.35" y="887.8" width="3.80" height="32.0" rx="1.9" fill="#fff"/><rect x="353.35" y="938.2" width="3.80" height="20.8" rx="1.9" fill="#fff"/><rect x="353.35" y="871.6" width="3.80" height="13.4" fill="#6e6e6e"/><rect x="354.75" y="872.6" width="1.1" height="11.4" fill="#9a9a9a"/><rect x="353.35" y="922.5" width="3.80" height="13.1" fill="#6e6e6e"/><rect x="354.75" y="923.5" width="1.1" height="11.1" fill="#9a9a9a"/><rect x="359.05" y="849.0" width="3.80" height="20.4" rx="1.9" fill="#fff"/><rect x="359.05" y="887.8" width="3.80" height="32.0" rx="1.9" fill="#fff"/><rect x="359.05" y="938.2" width="3.80" height="20.8" rx="1.9" fill="#fff"/><rect x="359.05" y="871.6" width="3.80" height="13.4" fill="#6e6e6e"/><rect x="360.45" y="872.6" width="1.1" height="11.4" fill="#9a9a9a"/><rect x="359.05" y="922.5" width="3.80" height="13.1" fill="#6e6e6e"/><rect x="360.45" y="923.5" width="1.1" height="11.1" fill="#9a9a9a"/><rect x="364.75" y="849.0" width="3.80" height="20.4" rx="1.9" fill="#fff"/><rect x="364.75" y="887.8" width="3.80" height="32.0" rx="1.9" fill="#fff"/><rect x="364.75" y="938.2" width="3.80" height="20.8" rx="1.9" fill="#fff"/><rect x="364.75" y="871.6" width="3.80" height="13.4" fill="#6e6e6e"/><rect x="366.15" y="872.6" width="1.1" height="11.4" fill="#9a9a9a"/><rect x="364.75" y="922.5" width="3.80" height="13.1" fill="#6e6e6e"/><rect x="366.15" y="923.5" width="1.1" height="11.1" fill="#9a9a9a"/><rect x="370.45" y="849.0" width="3.80" height="20.4" rx="1.9" fill="#fff"/><rect x="370.45" y="887.8" width="3.80" height="32.0" rx="1.9" fill="#fff"/><rect x="370.45" y="938.2" width="3.80" height="20.8" rx="1.9" fill="#fff"/><rect x="370.45" y="871.6" width="3.80" height="13.4" fill="#6e6e6e"/><rect x="371.85" y="872.6" width="1.1" height="11.4" fill="#9a9a9a"/><rect x="370.45" y="922.5" width="3.80" height="13.1" fill="#6e6e6e"/><rect x="371.85" y="923.5" width="1.1" height="11.1" fill="#9a9a9a"/><rect x="376.15" y="849.0" width="3.80" height="20.4" rx="1.9" fill="#fff"/><rect x="376.15" y="887.8" width="3.80" height="32.0" rx="1.9" fill="#fff"/><rect x="376.15" y="938.2" width="3.80" height="20.8" rx="1.9" fill="#fff"/><rect x="376.15" y="871.6" width="3.80" height="13.4" fill="#6e6e6e"/><rect x="377.55" y="872.6" width="1.1" height="11.4" fill="#9a9a9a"/><rect x="376.15" y="922.5" width="3.80" height="13.1" fill="#6e6e6e"/><rect x="377.55" y="923.5" width="1.1" height="11.1" fill="#9a9a9a"/><rect x="381.85" y="849.0" width="3.80" height="20.4" rx="1.9" fill="#fff"/><rect x="381.85" y="887.8" width="3.80" height="32.0" rx="1.9" fill="#fff"/><rect x="381.85" y="938.2" width="3.80" height="20.8" rx="1.9" fill="#fff"/><rect x="381.85" y="871.6" width="3.80" height="13.4" fill="#6e6e6e"/><rect x="383.25" y="872.6" width="1.1" height="11.4" fill="#9a9a9a"/><rect x="381.85" y="922.5" width="3.80" height="13.1" fill="#6e6e6e"/><rect x="383.25" y="923.5" width="1.1" height="11.1" fill="#9a9a9a"/><rect x="387.55" y="849.0" width="3.80" height="20.4" rx="1.9" fill="#fff"/><rect x="387.55" y="887.8" width="3.80" height="32.0" rx="1.9" fill="#fff"/><rect x="387.55" y="938.2" width="3.80" height="20.8" rx="1.9" fill="#fff"/><rect x="387.55" y="871.6" width="3.80" height="13.4" fill="#6e6e6e"/><rect x="388.95" y="872.6" width="1.1" height="11.4" fill="#9a9a9a"/><rect x="387.55" y="922.5" width="3.80" height="13.1" fill="#6e6e6e"/><rect x="388.95" y="923.5" width="1.1" height="11.1" fill="#9a9a9a"/><rect x="393.25" y="849.0" width="3.80" height="20.4" rx="1.9" fill="#fff"/><rect x="393.25" y="887.8" width="3.80" height="32.0" rx="1.9" fill="#fff"/><rect x="393.25" y="938.2" width="3.80" height="20.8" rx="1.9" fill="#fff"/><rect x="393.25" y="871.6" width="3.80" height="13.4" fill="#6e6e6e"/><rect x="394.65" y="872.6" width="1.1" height="11.4" fill="#9a9a9a"/><rect x="393.25" y="922.5" width="3.80" height="13.1" fill="#6e6e6e"/><rect x="394.65" y="923.5" width="1.1" height="11.1" fill="#9a9a9a"/><rect x="398.95" y="849.0" width="3.80" height="20.4" rx="1.9" fill="#fff"/><rect x="398.95" y="887.8" width="3.80" height="32.0" rx="1.9" fill="#fff"/><rect x="398.95" y="938.2" width="3.80" height="20.8" rx="1.9" fill="#fff"/><rect x="398.95" y="871.6" width="3.80" height="13.4" fill="#6e6e6e"/><rect x="400.35" y="872.6" width="1.1" height="11.4" fill="#9a9a9a"/><rect x="398.95" y="922.5" width="3.80" height="13.1" fill="#6e6e6e"/><rect x="400.35" y="923.5" width="1.1" height="11.1" fill="#9a9a9a"/><rect x="404.65" y="849.0" width="3.80" height="20.4" rx="1.9" fill="#fff"/><rect x="404.65" y="887.8" width="3.80" height="32.0" rx="1.9" fill="#fff"/><rect x="404.65" y="938.2" width="3.80" height="20.8" rx="1.9" fill="#fff"/><rect x="404.65" y="871.6" width="3.80" height="13.4" fill="#6e6e6e"/><rect x="406.05" y="872.6" width="1.1" height="11.4" fill="#9a9a9a"/><rect x="404.65" y="922.5" width="3.80" height="13.1" fill="#6e6e6e"/><rect x="406.05" y="923.5" width="1.1" height="11.1" fill="#9a9a9a"/><rect x="410.35" y="849.0" width="3.80" height="20.4" rx="1.9" fill="#fff"/><rect x="410.35" y="887.8" width="3.80" height="32.0" rx="1.9" fill="#fff"/><rect x="410.35" y="938.2" width="3.80" height="20.8" rx="1.9" fill="#fff"/><rect x="410.35" y="871.6" width="3.80" height="13.4" fill="#6e6e6e"/><rect x="411.75" y="872.6" width="1.1" height="11.4" fill="#9a9a9a"/><rect x="410.35" y="922.5" width="3.80" height="13.1" fill="#6e6e6e"/><rect x="411.75" y="923.5" width="1.1" height="11.1" fill="#9a9a9a"/><rect x="416.05" y="849.0" width="3.80" height="20.4" rx="1.9" fill="#fff"/><rect x="416.05" y="887.8" width="3.80" height="32.0" rx="1.9" fill="#fff"/><rect x="416.05" y="938.2" width="3.80" height="20.8" rx="1.9" fill="#fff"/><rect x="416.05" y="871.6" width="3.80" height="13.4" fill="#6e6e6e"/><rect x="417.45" y="872.6" width="1.1" height="11.4" fill="#9a9a9a"/><rect x="416.05" y="922.5" width="3.80" height="13.1" fill="#6e6e6e"/><rect x="417.45" y="923.5" width="1.1" height="11.1" fill="#9a9a9a"/><rect x="421.75" y="849.0" width="3.80" height="20.4" rx="1.9" fill="#fff"/><rect x="421.75" y="887.8" width="3.80" height="32.0" rx="1.9" fill="#fff"/><rect x="421.75" y="938.2" width="3.80" height="20.8" rx="1.9" fill="#fff"/><rect x="421.75" y="871.6" width="3.80" height="13.4" fill="#6e6e6e"/><rect x="423.15" y="872.6" width="1.1" height="11.4" fill="#9a9a9a"/><rect x="421.75" y="922.5" width="3.80" height="13.1" fill="#6e6e6e"/><rect x="423.15" y="923.5" width="1.1" height="11.1" fill="#9a9a9a"/><rect x="427.45" y="849.0" width="3.80" height="20.4" rx="1.9" fill="#fff"/><rect x="427.45" y="887.8" width="3.80" height="32.0" rx="1.9" fill="#fff"/><rect x="427.45" y="938.2" width="3.80" height="20.8" rx="1.9" fill="#fff"/><rect x="427.45" y="871.6" width="3.80" height="13.4" fill="#6e6e6e"/><rect x="428.85" y="872.6" width="1.1" height="11.4" fill="#9a9a9a"/><rect x="427.45" y="922.5" width="3.80" height="13.1" fill="#6e6e6e"/><rect x="428.85" y="923.5" width="1.1" height="11.1" fill="#9a9a9a"/><rect x="433.15" y="849.0" width="3.80" height="20.4" rx="1.9" fill="#fff"/><rect x="433.15" y="887.8" width="3.80" height="32.0" rx="1.9" fill="#fff"/><rect x="433.15" y="938.2" width="3.80" height="20.8" rx="1.9" fill="#fff"/><rect x="433.15" y="871.6" width="3.80" height="13.4" fill="#6e6e6e"/><rect x="434.55" y="872.6" width="1.1" height="11.4" fill="#9a9a9a"/><rect x="433.15" y="922.5" width="3.80" height="13.1" fill="#6e6e6e"/><rect x="434.55" y="923.5" width="1.1" height="11.1" fill="#9a9a9a"/><rect x="438.85" y="849.0" width="3.80" height="20.4" rx="1.9" fill="#fff"/><rect x="438.85" y="887.8" width="3.80" height="32.0" rx="1.9" fill="#fff"/><rect x="438.85" y="938.2" width="3.80" height="20.8" rx="1.9" fill="#fff"/><rect x="438.85" y="871.6" width="3.80" height="13.4" fill="#6e6e6e"/><rect x="440.25" y="872.6" width="1.1" height="11.4" fill="#9a9a9a"/><rect x="438.85" y="922.5" width="3.80" height="13.1" fill="#6e6e6e"/><rect x="440.25" y="923.5" width="1.1" height="11.1" fill="#9a9a9a"/><rect x="444.55" y="849.0" width="3.80" height="20.4" rx="1.9" fill="#fff"/><rect x="444.55" y="887.8" width="3.80" height="32.0" rx="1.9" fill="#fff"/><rect x="444.55" y="938.2" width="3.80" height="20.8" rx="1.9" fill="#fff"/><rect x="444.55" y="871.6" width="3.80" height="13.4" fill="#6e6e6e"/><rect x="445.95" y="872.6" width="1.1" height="11.4" fill="#9a9a9a"/><rect x="444.55" y="922.5" width="3.80" height="13.1" fill="#6e6e6e"/><rect x="445.95" y="923.5" width="1.1" height="11.1" fill="#9a9a9a"/><rect x="450.25" y="849.0" width="3.80" height="20.4" rx="1.9" fill="#fff"/><rect x="450.25" y="887.8" width="3.80" height="32.0" rx="1.9" fill="#fff"/><rect x="450.25" y="938.2" width="3.80" height="20.8" rx="1.9" fill="#fff"/><rect x="450.25" y="871.6" width="3.80" height="13.4" fill="#6e6e6e"/><rect x="451.65" y="872.6" width="1.1" height="11.4" fill="#9a9a9a"/><rect x="450.25" y="922.5" width="3.80" height="13.1" fill="#6e6e6e"/><rect x="451.65" y="923.5" width="1.1" height="11.1" fill="#9a9a9a"/><rect x="455.95" y="849.0" width="3.80" height="20.4" rx="1.9" fill="#fff"/><rect x="455.95" y="887.8" width="3.80" height="32.0" rx="1.9" fill="#fff"/><rect x="455.95" y="938.2" width="3.80" height="20.8" rx="1.9" fill="#fff"/><rect x="455.95" y="871.6" width="3.80" height="13.4" fill="#6e6e6e"/><rect x="457.35" y="872.6" width="1.1" height="11.4" fill="#9a9a9a"/><rect x="455.95" y="922.5" width="3.80" height="13.1" fill="#6e6e6e"/><rect x="457.35" y="923.5" width="1.1" height="11.1" fill="#9a9a9a"/><rect x="461.65" y="849.0" width="3.80" height="20.4" rx="1.9" fill="#fff"/><rect x="461.65" y="887.8" width="3.80" height="32.0" rx="1.9" fill="#fff"/><rect x="461.65" y="938.2" width="3.80" height="20.8" rx="1.9" fill="#fff"/><rect x="461.65" y="871.6" width="3.80" height="13.4" fill="#6e6e6e"/><rect x="463.05" y="872.6" width="1.1" height="11.4" fill="#9a9a9a"/><rect x="461.65" y="922.5" width="3.80" height="13.1" fill="#6e6e6e"/><rect x="463.05" y="923.5" width="1.1" height="11.1" fill="#9a9a9a"/><rect x="467.35" y="849.0" width="3.80" height="20.4" rx="1.9" fill="#fff"/><rect x="467.35" y="887.8" width="3.80" height="32.0" rx="1.9" fill="#fff"/><rect x="467.35" y="938.2" width="3.80" height="20.8" rx="1.9" fill="#fff"/><rect x="467.35" y="871.6" width="3.80" height="13.4" fill="#6e6e6e"/><rect x="468.75" y="872.6" width="1.1" height="11.4" fill="#9a9a9a"/><rect x="467.35" y="922.5" width="3.80" height="13.1" fill="#6e6e6e"/><rect x="468.75" y="923.5" width="1.1" height="11.1" fill="#9a9a9a"/><rect x="473.05" y="849.0" width="3.80" height="20.4" rx="1.9" fill="#fff"/><rect x="473.05" y="887.8" width="3.80" height="32.0" rx="1.9" fill="#fff"/><rect x="473.05" y="938.2" width="3.80" height="20.8" rx="1.9" fill="#fff"/><rect x="473.05" y="871.6" width="3.80" height="13.4" fill="#6e6e6e"/><rect x="474.45" y="872.6" width="1.1" height="11.4" fill="#9a9a9a"/><rect x="473.05" y="922.5" width="3.80" height="13.1" fill="#6e6e6e"/><rect x="474.45" y="923.5" width="1.1" height="11.1" fill="#9a9a9a"/><rect x="478.75" y="849.0" width="3.80" height="20.4" rx="1.9" fill="#fff"/><rect x="478.75" y="887.8" width="3.80" height="32.0" rx="1.9" fill="#fff"/><rect x="478.75" y="938.2" width="3.80" height="20.8" rx="1.9" fill="#fff"/><rect x="478.75" y="871.6" width="3.80" height="13.4" fill="#6e6e6e"/><rect x="480.15" y="872.6" width="1.1" height="11.4" fill="#9a9a9a"/><rect x="478.75" y="922.5" width="3.80" height="13.1" fill="#6e6e6e"/><rect x="480.15" y="923.5" width="1.1" height="11.1" fill="#9a9a9a"/><rect x="484.45" y="849.0" width="3.80" height="20.4" rx="1.9" fill="#fff"/><rect x="484.45" y="887.8" width="3.80" height="32.0" rx="1.9" fill="#fff"/><rect x="484.45" y="938.2" width="3.80" height="20.8" rx="1.9" fill="#fff"/><rect x="484.45" y="871.6" width="3.80" height="13.4" fill="#6e6e6e"/><rect x="485.85" y="872.6" width="1.1" height="11.4" fill="#9a9a9a"/><rect x="484.45" y="922.5" width="3.80" height="13.1" fill="#6e6e6e"/><rect x="485.85" y="923.5" width="1.1" height="11.1" fill="#9a9a9a"/><rect x="490.15" y="849.0" width="3.80" height="20.4" rx="1.9" fill="#fff"/><rect x="490.15" y="887.8" width="3.80" height="32.0" rx="1.9" fill="#fff"/><rect x="490.15" y="938.2" width="3.80" height="20.8" rx="1.9" fill="#fff"/><rect x="490.15" y="871.6" width="3.80" height="13.4" fill="#6e6e6e"/><rect x="491.55" y="872.6" width="1.1" height="11.4" fill="#9a9a9a"/><rect x="490.15" y="922.5" width="3.80" height="13.1" fill="#6e6e6e"/><rect x="491.55" y="923.5" width="1.1" height="11.1" fill="#9a9a9a"/><rect x="495.85" y="849.0" width="3.80" height="20.4" rx="1.9" fill="#fff"/><rect x="495.85" y="887.8" width="3.80" height="32.0" rx="1.9" fill="#fff"/><rect x="495.85" y="938.2" width="3.80" height="20.8" rx="1.9" fill="#fff"/><rect x="495.85" y="871.6" width="3.80" height="13.4" fill="#6e6e6e"/><rect x="497.25" y="872.6" width="1.1" height="11.4" fill="#9a9a9a"/><rect x="495.85" y="922.5" width="3.80" height="13.1" fill="#6e6e6e"/><rect x="497.25" y="923.5" width="1.1" height="11.1" fill="#9a9a9a"/><rect x="501.55" y="849.0" width="3.80" height="20.4" rx="1.9" fill="#fff"/><rect x="501.55" y="887.8" width="3.80" height="32.0" rx="1.9" fill="#fff"/><rect x="501.55" y="938.2" width="3.80" height="20.8" rx="1.9" fill="#fff"/><rect x="501.55" y="871.6" width="3.80" height="13.4" fill="#6e6e6e"/><rect x="502.95" y="872.6" width="1.1" height="11.4" fill="#9a9a9a"/><rect x="501.55" y="922.5" width="3.80" height="13.1" fill="#6e6e6e"/><rect x="502.95" y="923.5" width="1.1" height="11.1" fill="#9a9a9a"/><rect x="507.25" y="849.0" width="3.80" height="20.4" rx="1.9" fill="#fff"/><rect x="507.25" y="887.8" width="3.80" height="32.0" rx="1.9" fill="#fff"/><rect x="507.25" y="938.2" width="3.80" height="20.8" rx="1.9" fill="#fff"/><rect x="507.25" y="871.6" width="3.80" height="13.4" fill="#6e6e6e"/><rect x="508.65" y="872.6" width="1.1" height="11.4" fill="#9a9a9a"/><rect x="507.25" y="922.5" width="3.80" height="13.1" fill="#6e6e6e"/><rect x="508.65" y="923.5" width="1.1" height="11.1" fill="#9a9a9a"/><rect x="512.95" y="849.0" width="3.80" height="20.4" rx="1.9" fill="#fff"/><rect x="512.95" y="887.8" width="3.80" height="32.0" rx="1.9" fill="#fff"/><rect x="512.95" y="938.2" width="3.80" height="20.8" rx="1.9" fill="#fff"/><rect x="512.95" y="871.6" width="3.80" height="13.4" fill="#6e6e6e"/><rect x="514.35" y="872.6" width="1.1" height="11.4" fill="#9a9a9a"/><rect x="512.95" y="922.5" width="3.80" height="13.1" fill="#6e6e6e"/><rect x="514.35" y="923.5" width="1.1" height="11.1" fill="#9a9a9a"/><rect x="518.65" y="849.0" width="3.80" height="20.4" rx="1.9" fill="#fff"/><rect x="518.65" y="887.8" width="3.80" height="32.0" rx="1.9" fill="#fff"/><rect x="518.65" y="938.2" width="3.80" height="20.8" rx="1.9" fill="#fff"/><rect x="518.65" y="871.6" width="3.80" height="13.4" fill="#6e6e6e"/><rect x="520.05" y="872.6" width="1.1" height="11.4" fill="#9a9a9a"/><rect x="518.65" y="922.5" width="3.80" height="13.1" fill="#6e6e6e"/><rect x="520.05" y="923.5" width="1.1" height="11.1" fill="#9a9a9a"/><rect x="524.35" y="849.0" width="3.80" height="20.4" rx="1.9" fill="#fff"/><rect x="524.35" y="887.8" width="3.80" height="32.0" rx="1.9" fill="#fff"/><rect x="524.35" y="938.2" width="3.80" height="20.8" rx="1.9" fill="#fff"/><rect x="524.35" y="871.6" width="3.80" height="13.4" fill="#6e6e6e"/><rect x="525.75" y="872.6" width="1.1" height="11.4" fill="#9a9a9a"/><rect x="524.35" y="922.5" width="3.80" height="13.1" fill="#6e6e6e"/><rect x="525.75" y="923.5" width="1.1" height="11.1" fill="#9a9a9a"/><rect x="530.05" y="849.0" width="3.80" height="20.4" rx="1.9" fill="#fff"/><rect x="530.05" y="887.8" width="3.80" height="32.0" rx="1.9" fill="#fff"/><rect x="530.05" y="938.2" width="3.80" height="20.8" rx="1.9" fill="#fff"/><rect x="530.05" y="871.6" width="3.80" height="13.4" fill="#6e6e6e"/><rect x="531.45" y="872.6" width="1.1" height="11.4" fill="#9a9a9a"/><rect x="530.05" y="922.5" width="3.80" height="13.1" fill="#6e6e6e"/><rect x="531.45" y="923.5" width="1.1" height="11.1" fill="#9a9a9a"/><rect x="535.75" y="849.0" width="3.80" height="20.4" rx="1.9" fill="#fff"/><rect x="535.75" y="887.8" width="3.80" height="32.0" rx="1.9" fill="#fff"/><rect x="535.75" y="938.2" width="3.80" height="20.8" rx="1.9" fill="#fff"/><rect x="535.75" y="871.6" width="3.80" height="13.4" fill="#6e6e6e"/><rect x="537.15" y="872.6" width="1.1" height="11.4" fill="#9a9a9a"/><rect x="535.75" y="922.5" width="3.80" height="13.1" fill="#6e6e6e"/><rect x="537.15" y="923.5" width="1.1" height="11.1" fill="#9a9a9a"/><rect x="541.45" y="849.0" width="3.80" height="20.4" rx="1.9" fill="#fff"/><rect x="541.45" y="887.8" width="3.80" height="32.0" rx="1.9" fill="#fff"/><rect x="541.45" y="938.2" width="3.80" height="20.8" rx="1.9" fill="#fff"/><rect x="541.45" y="871.6" width="3.80" height="13.4" fill="#6e6e6e"/><rect x="542.85" y="872.6" width="1.1" height="11.4" fill="#9a9a9a"/><rect x="541.45" y="922.5" width="3.80" height="13.1" fill="#6e6e6e"/><rect x="542.85" y="923.5" width="1.1" height="11.1" fill="#9a9a9a"/><rect x="547.15" y="849.0" width="3.80" height="20.4" rx="1.9" fill="#fff"/><rect x="547.15" y="887.8" width="3.80" height="32.0" rx="1.9" fill="#fff"/><rect x="547.15" y="938.2" width="3.80" height="20.8" rx="1.9" fill="#fff"/><rect x="547.15" y="871.6" width="3.80" height="13.4" fill="#6e6e6e"/><rect x="548.55" y="872.6" width="1.1" height="11.4" fill="#9a9a9a"/><rect x="547.15" y="922.5" width="3.80" height="13.1" fill="#6e6e6e"/><rect x="548.55" y="923.5" width="1.1" height="11.1" fill="#9a9a9a"/><rect x="552.85" y="849.0" width="3.80" height="20.4" rx="1.9" fill="#fff"/><rect x="552.85" y="887.8" width="3.80" height="32.0" rx="1.9" fill="#fff"/><rect x="552.85" y="938.2" width="3.80" height="20.8" rx="1.9" fill="#fff"/><rect x="552.85" y="871.6" width="3.80" height="13.4" fill="#6e6e6e"/><rect x="554.25" y="872.6" width="1.1" height="11.4" fill="#9a9a9a"/><rect x="552.85" y="922.5" width="3.80" height="13.1" fill="#6e6e6e"/><rect x="554.25" y="923.5" width="1.1" height="11.1" fill="#9a9a9a"/><rect x="558.55" y="849.0" width="3.80" height="20.4" rx="1.9" fill="#fff"/><rect x="558.55" y="887.8" width="3.80" height="32.0" rx="1.9" fill="#fff"/><rect x="558.55" y="938.2" width="3.80" height="20.8" rx="1.9" fill="#fff"/><rect x="558.55" y="871.6" width="3.80" height="13.4" fill="#6e6e6e"/><rect x="559.95" y="872.6" width="1.1" height="11.4" fill="#9a9a9a"/><rect x="558.55" y="922.5" width="3.80" height="13.1" fill="#6e6e6e"/><rect x="559.95" y="923.5" width="1.1" height="11.1" fill="#9a9a9a"/><rect x="564.25" y="849.0" width="3.80" height="20.4" rx="1.9" fill="#fff"/><rect x="564.25" y="887.8" width="3.80" height="32.0" rx="1.9" fill="#fff"/><rect x="564.25" y="938.2" width="3.80" height="20.8" rx="1.9" fill="#fff"/><rect x="564.25" y="871.6" width="3.80" height="13.4" fill="#6e6e6e"/><rect x="565.65" y="872.6" width="1.1" height="11.4" fill="#9a9a9a"/><rect x="564.25" y="922.5" width="3.80" height="13.1" fill="#6e6e6e"/><rect x="565.65" y="923.5" width="1.1" height="11.1" fill="#9a9a9a"/><rect x="569.95" y="849.0" width="3.80" height="20.4" rx="1.9" fill="#fff"/><rect x="569.95" y="887.8" width="3.80" height="32.0" rx="1.9" fill="#fff"/><rect x="569.95" y="938.2" width="3.80" height="20.8" rx="1.9" fill="#fff"/><rect x="569.95" y="871.6" width="3.80" height="13.4" fill="#6e6e6e"/><rect x="571.35" y="872.6" width="1.1" height="11.4" fill="#9a9a9a"/><rect x="569.95" y="922.5" width="3.80" height="13.1" fill="#6e6e6e"/><rect x="571.35" y="923.5" width="1.1" height="11.1" fill="#9a9a9a"/><rect x="575.65" y="849.0" width="3.80" height="20.4" rx="1.9" fill="#fff"/><rect x="575.65" y="887.8" width="3.80" height="32.0" rx="1.9" fill="#fff"/><rect x="575.65" y="938.2" width="3.80" height="20.8" rx="1.9" fill="#fff"/><rect x="575.65" y="871.6" width="3.80" height="13.4" fill="#6e6e6e"/><rect x="577.05" y="872.6" width="1.1" height="11.4" fill="#9a9a9a"/><rect x="575.65" y="922.5" width="3.80" height="13.1" fill="#6e6e6e"/><rect x="577.05" y="923.5" width="1.1" height="11.1" fill="#9a9a9a"/><rect x="581.35" y="849.0" width="3.80" height="20.4" rx="1.9" fill="#fff"/><rect x="581.35" y="887.8" width="3.80" height="32.0" rx="1.9" fill="#fff"/><rect x="581.35" y="938.2" width="3.80" height="20.8" rx="1.9" fill="#fff"/><rect x="581.35" y="871.6" width="3.80" height="13.4" fill="#6e6e6e"/><rect x="582.75" y="872.6" width="1.1" height="11.4" fill="#9a9a9a"/><rect x="581.35" y="922.5" width="3.80" height="13.1" fill="#6e6e6e"/><rect x="582.75" y="923.5" width="1.1" height="11.1" fill="#9a9a9a"/><rect x="587.05" y="849.0" width="3.80" height="20.4" rx="1.9" fill="#fff"/><rect x="587.05" y="887.8" width="3.80" height="32.0" rx="1.9" fill="#fff"/><rect x="587.05" y="938.2" width="3.80" height="20.8" rx="1.9" fill="#fff"/><rect x="587.05" y="871.6" width="3.80" height="13.4" fill="#6e6e6e"/><rect x="588.45" y="872.6" width="1.1" height="11.4" fill="#9a9a9a"/><rect x="587.05" y="922.5" width="3.80" height="13.1" fill="#6e6e6e"/><rect x="588.45" y="923.5" width="1.1" height="11.1" fill="#9a9a9a"/><rect x="592.75" y="849.0" width="3.80" height="20.4" rx="1.9" fill="#fff"/><rect x="592.75" y="887.8" width="3.80" height="32.0" rx="1.9" fill="#fff"/><rect x="592.75" y="938.2" width="3.80" height="20.8" rx="1.9" fill="#fff"/><rect x="592.75" y="871.6" width="3.80" height="13.4" fill="#6e6e6e"/><rect x="594.15" y="872.6" width="1.1" height="11.4" fill="#9a9a9a"/><rect x="592.75" y="922.5" width="3.80" height="13.1" fill="#6e6e6e"/><rect x="594.15" y="923.5" width="1.1" height="11.1" fill="#9a9a9a"/><rect x="598.45" y="849.0" width="3.80" height="20.4" rx="1.9" fill="#fff"/><rect x="598.45" y="887.8" width="3.80" height="32.0" rx="1.9" fill="#fff"/><rect x="598.45" y="938.2" width="3.80" height="20.8" rx="1.9" fill="#fff"/><rect x="598.45" y="871.6" width="3.80" height="13.4" fill="#6e6e6e"/><rect x="599.85" y="872.6" width="1.1" height="11.4" fill="#9a9a9a"/><rect x="598.45" y="922.5" width="3.80" height="13.1" fill="#6e6e6e"/><rect x="599.85" y="923.5" width="1.1" height="11.1" fill="#9a9a9a"/><rect x="604.15" y="849.0" width="3.80" height="20.4" rx="1.9" fill="#fff"/><rect x="604.15" y="887.8" width="3.80" height="32.0" rx="1.9" fill="#fff"/><rect x="604.15" y="938.2" width="3.80" height="20.8" rx="1.9" fill="#fff"/><rect x="604.15" y="871.6" width="3.80" height="13.4" fill="#6e6e6e"/><rect x="605.55" y="872.6" width="1.1" height="11.4" fill="#9a9a9a"/><rect x="604.15" y="922.5" width="3.80" height="13.1" fill="#6e6e6e"/><rect x="605.55" y="923.5" width="1.1" height="11.1" fill="#9a9a9a"/><rect x="609.85" y="849.0" width="3.80" height="20.4" rx="1.9" fill="#fff"/><rect x="609.85" y="887.8" width="3.80" height="32.0" rx="1.9" fill="#fff"/><rect x="609.85" y="938.2" width="3.80" height="20.8" rx="1.9" fill="#fff"/><rect x="609.85" y="871.6" width="3.80" height="13.4" fill="#6e6e6e"/><rect x="611.25" y="872.6" width="1.1" height="11.4" fill="#9a9a9a"/><rect x="609.85" y="922.5" width="3.80" height="13.1" fill="#6e6e6e"/><rect x="611.25" y="923.5" width="1.1" height="11.1" fill="#9a9a9a"/><rect x="615.55" y="849.0" width="3.80" height="20.4" rx="1.9" fill="#fff"/><rect x="615.55" y="887.8" width="3.80" height="32.0" rx="1.9" fill="#fff"/><rect x="615.55" y="938.2" width="3.80" height="20.8" rx="1.9" fill="#fff"/><rect x="615.55" y="871.6" width="3.80" height="13.4" fill="#6e6e6e"/><rect x="616.95" y="872.6" width="1.1" height="11.4" fill="#9a9a9a"/><rect x="615.55" y="922.5" width="3.80" height="13.1" fill="#6e6e6e"/><rect x="616.95" y="923.5" width="1.1" height="11.1" fill="#9a9a9a"/><rect x="621.25" y="849.0" width="3.80" height="20.4" rx="1.9" fill="#fff"/><rect x="621.25" y="887.8" width="3.80" height="32.0" rx="1.9" fill="#fff"/><rect x="621.25" y="938.2" width="3.80" height="20.8" rx="1.9" fill="#fff"/><rect x="621.25" y="871.6" width="3.80" height="13.4" fill="#6e6e6e"/><rect x="622.65" y="872.6" width="1.1" height="11.4" fill="#9a9a9a"/><rect x="621.25" y="922.5" width="3.80" height="13.1" fill="#6e6e6e"/><rect x="622.65" y="923.5" width="1.1" height="11.1" fill="#9a9a9a"/><rect x="626.95" y="849.0" width="3.80" height="20.4" rx="1.9" fill="#fff"/><rect x="626.95" y="887.8" width="3.80" height="32.0" rx="1.9" fill="#fff"/><rect x="626.95" y="938.2" width="3.80" height="20.8" rx="1.9" fill="#fff"/><rect x="626.95" y="871.6" width="3.80" height="13.4" fill="#6e6e6e"/><rect x="628.35" y="872.6" width="1.1" height="11.4" fill="#9a9a9a"/><rect x="626.95" y="922.5" width="3.80" height="13.1" fill="#6e6e6e"/><rect x="628.35" y="923.5" width="1.1" height="11.1" fill="#9a9a9a"/><rect x="632.65" y="849.0" width="3.80" height="20.4" rx="1.9" fill="#fff"/><rect x="632.65" y="887.8" width="3.80" height="32.0" rx="1.9" fill="#fff"/><rect x="632.65" y="938.2" width="3.80" height="20.8" rx="1.9" fill="#fff"/><rect x="632.65" y="871.6" width="3.80" height="13.4" fill="#6e6e6e"/><rect x="634.05" y="872.6" width="1.1" height="11.4" fill="#9a9a9a"/><rect x="632.65" y="922.5" width="3.80" height="13.1" fill="#6e6e6e"/><rect x="634.05" y="923.5" width="1.1" height="11.1" fill="#9a9a9a"/><rect x="638.35" y="849.0" width="3.80" height="20.4" rx="1.9" fill="#fff"/><rect x="638.35" y="887.8" width="3.80" height="32.0" rx="1.9" fill="#fff"/><rect x="638.35" y="938.2" width="3.80" height="20.8" rx="1.9" fill="#fff"/><rect x="638.35" y="871.6" width="3.80" height="13.4" fill="#6e6e6e"/><rect x="639.75" y="872.6" width="1.1" height="11.4" fill="#9a9a9a"/><rect x="638.35" y="922.5" width="3.80" height="13.1" fill="#6e6e6e"/><rect x="639.75" y="923.5" width="1.1" height="11.1" fill="#9a9a9a"/><rect x="644.05" y="849.0" width="3.80" height="20.4" rx="1.9" fill="#fff"/><rect x="644.05" y="887.8" width="3.80" height="32.0" rx="1.9" fill="#fff"/><rect x="644.05" y="938.2" width="3.80" height="20.8" rx="1.9" fill="#fff"/><rect x="644.05" y="871.6" width="3.80" height="13.4" fill="#6e6e6e"/><rect x="645.45" y="872.6" width="1.1" height="11.4" fill="#9a9a9a"/><rect x="644.05" y="922.5" width="3.80" height="13.1" fill="#6e6e6e"/><rect x="645.45" y="923.5" width="1.1" height="11.1" fill="#9a9a9a"/><rect x="649.75" y="849.0" width="3.80" height="20.4" rx="1.9" fill="#fff"/><rect x="649.75" y="887.8" width="3.80" height="32.0" rx="1.9" fill="#fff"/><rect x="649.75" y="938.2" width="3.80" height="20.8" rx="1.9" fill="#fff"/><rect x="649.75" y="871.6" width="3.80" height="13.4" fill="#6e6e6e"/><rect x="651.15" y="872.6" width="1.1" height="11.4" fill="#9a9a9a"/><rect x="649.75" y="922.5" width="3.80" height="13.1" fill="#6e6e6e"/><rect x="651.15" y="923.5" width="1.1" height="11.1" fill="#9a9a9a"/><rect x="655.45" y="849.0" width="3.80" height="20.4" rx="1.9" fill="#fff"/><rect x="655.45" y="887.8" width="3.80" height="32.0" rx="1.9" fill="#fff"/><rect x="655.45" y="938.2" width="3.80" height="20.8" rx="1.9" fill="#fff"/><rect x="655.45" y="871.6" width="3.80" height="13.4" fill="#6e6e6e"/><rect x="656.85" y="872.6" width="1.1" height="11.4" fill="#9a9a9a"/><rect x="655.45" y="922.5" width="3.80" height="13.1" fill="#6e6e6e"/><rect x="656.85" y="923.5" width="1.1" height="11.1" fill="#9a9a9a"/><rect x="661.15" y="849.0" width="3.80" height="20.4" rx="1.9" fill="#fff"/><rect x="661.15" y="887.8" width="3.80" height="32.0" rx="1.9" fill="#fff"/><rect x="661.15" y="938.2" width="3.80" height="20.8" rx="1.9" fill="#fff"/><rect x="661.15" y="871.6" width="3.80" height="13.4" fill="#6e6e6e"/><rect x="662.55" y="872.6" width="1.1" height="11.4" fill="#9a9a9a"/><rect x="661.15" y="922.5" width="3.80" height="13.1" fill="#6e6e6e"/><rect x="662.55" y="923.5" width="1.1" height="11.1" fill="#9a9a9a"/><rect x="666.85" y="849.0" width="3.80" height="20.4" rx="1.9" fill="#fff"/><rect x="666.85" y="887.8" width="3.80" height="32.0" rx="1.9" fill="#fff"/><rect x="666.85" y="938.2" width="3.80" height="20.8" rx="1.9" fill="#fff"/><rect x="666.85" y="871.6" width="3.80" height="13.4" fill="#6e6e6e"/><rect x="668.25" y="872.6" width="1.1" height="11.4" fill="#9a9a9a"/><rect x="666.85" y="922.5" width="3.80" height="13.1" fill="#6e6e6e"/><rect x="668.25" y="923.5" width="1.1" height="11.1" fill="#9a9a9a"/><rect x="672.55" y="849.0" width="3.80" height="20.4" rx="1.9" fill="#fff"/><rect x="672.55" y="887.8" width="3.80" height="32.0" rx="1.9" fill="#fff"/><rect x="672.55" y="938.2" width="3.80" height="20.8" rx="1.9" fill="#fff"/><rect x="672.55" y="871.6" width="3.80" height="13.4" fill="#6e6e6e"/><rect x="673.95" y="872.6" width="1.1" height="11.4" fill="#9a9a9a"/><rect x="672.55" y="922.5" width="3.80" height="13.1" fill="#6e6e6e"/><rect x="673.95" y="923.5" width="1.1" height="11.1" fill="#9a9a9a"/><rect x="678.25" y="849.0" width="3.80" height="20.4" rx="1.9" fill="#fff"/><rect x="678.25" y="887.8" width="3.80" height="32.0" rx="1.9" fill="#fff"/><rect x="678.25" y="938.2" width="3.80" height="20.8" rx="1.9" fill="#fff"/><rect x="678.25" y="871.6" width="3.80" height="13.4" fill="#6e6e6e"/><rect x="679.65" y="872.6" width="1.1" height="11.4" fill="#9a9a9a"/><rect x="678.25" y="922.5" width="3.80" height="13.1" fill="#6e6e6e"/><rect x="679.65" y="923.5" width="1.1" height="11.1" fill="#9a9a9a"/><rect x="683.95" y="849.0" width="3.80" height="20.4" rx="1.9" fill="#fff"/><rect x="683.95" y="887.8" width="3.80" height="32.0" rx="1.9" fill="#fff"/><rect x="683.95" y="938.2" width="3.80" height="20.8" rx="1.9" fill="#fff"/><rect x="683.95" y="871.6" width="3.80" height="13.4" fill="#6e6e6e"/><rect x="685.35" y="872.6" width="1.1" height="11.4" fill="#9a9a9a"/><rect x="683.95" y="922.5" width="3.80" height="13.1" fill="#6e6e6e"/><rect x="685.35" y="923.5" width="1.1" height="11.1" fill="#9a9a9a"/><rect x="689.65" y="849.0" width="3.80" height="20.4" rx="1.9" fill="#fff"/><rect x="689.65" y="887.8" width="3.80" height="32.0" rx="1.9" fill="#fff"/><rect x="689.65" y="938.2" width="3.80" height="20.8" rx="1.9" fill="#fff"/><rect x="689.65" y="871.6" width="3.80" height="13.4" fill="#6e6e6e"/><rect x="691.05" y="872.6" width="1.1" height="11.4" fill="#9a9a9a"/><rect x="689.65" y="922.5" width="3.80" height="13.1" fill="#6e6e6e"/><rect x="691.05" y="923.5" width="1.1" height="11.1" fill="#9a9a9a"/><rect x="695.35" y="849.0" width="3.80" height="20.4" rx="1.9" fill="#fff"/><rect x="695.35" y="887.8" width="3.80" height="32.0" rx="1.9" fill="#fff"/><rect x="695.35" y="938.2" width="3.80" height="20.8" rx="1.9" fill="#fff"/><rect x="695.35" y="871.6" width="3.80" height="13.4" fill="#6e6e6e"/><rect x="696.75" y="872.6" width="1.1" height="11.4" fill="#9a9a9a"/><rect x="695.35" y="922.5" width="3.80" height="13.1" fill="#6e6e6e"/><rect x="696.75" y="923.5" width="1.1" height="11.1" fill="#9a9a9a"/><rect x="701.05" y="849.0" width="3.80" height="20.4" rx="1.9" fill="#fff"/><rect x="701.05" y="887.8" width="3.80" height="32.0" rx="1.9" fill="#fff"/><rect x="701.05" y="938.2" width="3.80" height="20.8" rx="1.9" fill="#fff"/><rect x="701.05" y="871.6" width="3.80" height="13.4" fill="#6e6e6e"/><rect x="702.45" y="872.6" width="1.1" height="11.4" fill="#9a9a9a"/><rect x="701.05" y="922.5" width="3.80" height="13.1" fill="#6e6e6e"/><rect x="702.45" y="923.5" width="1.1" height="11.1" fill="#9a9a9a"/><rect x="706.75" y="849.0" width="3.80" height="20.4" rx="1.9" fill="#fff"/><rect x="706.75" y="887.8" width="3.80" height="32.0" rx="1.9" fill="#fff"/><rect x="706.75" y="938.2" width="3.80" height="20.8" rx="1.9" fill="#fff"/><rect x="706.75" y="871.6" width="3.80" height="13.4" fill="#6e6e6e"/><rect x="708.15" y="872.6" width="1.1" height="11.4" fill="#9a9a9a"/><rect x="706.75" y="922.5" width="3.80" height="13.1" fill="#6e6e6e"/><rect x="708.15" y="923.5" width="1.1" height="11.1" fill="#9a9a9a"/><rect x="712.45" y="849.0" width="3.80" height="20.4" rx="1.9" fill="#fff"/><rect x="712.45" y="887.8" width="3.80" height="32.0" rx="1.9" fill="#fff"/><rect x="712.45" y="938.2" width="3.80" height="20.8" rx="1.9" fill="#fff"/><rect x="712.45" y="871.6" width="3.80" height="13.4" fill="#6e6e6e"/><rect x="713.85" y="872.6" width="1.1" height="11.4" fill="#9a9a9a"/><rect x="712.45" y="922.5" width="3.80" height="13.1" fill="#6e6e6e"/><rect x="713.85" y="923.5" width="1.1" height="11.1" fill="#9a9a9a"/><rect x="718.15" y="849.0" width="3.80" height="20.4" rx="1.9" fill="#fff"/><rect x="718.15" y="887.8" width="3.80" height="32.0" rx="1.9" fill="#fff"/><rect x="718.15" y="938.2" width="3.80" height="20.8" rx="1.9" fill="#fff"/><rect x="718.15" y="871.6" width="3.80" height="13.4" fill="#6e6e6e"/><rect x="719.55" y="872.6" width="1.1" height="11.4" fill="#9a9a9a"/><rect x="718.15" y="922.5" width="3.80" height="13.1" fill="#6e6e6e"/><rect x="719.55" y="923.5" width="1.1" height="11.1" fill="#9a9a9a"/><rect x="723.85" y="849.0" width="3.80" height="20.4" rx="1.9" fill="#fff"/><rect x="723.85" y="887.8" width="3.80" height="32.0" rx="1.9" fill="#fff"/><rect x="723.85" y="938.2" width="3.80" height="20.8" rx="1.9" fill="#fff"/><rect x="723.85" y="871.6" width="3.80" height="13.4" fill="#6e6e6e"/><rect x="725.25" y="872.6" width="1.1" height="11.4" fill="#9a9a9a"/><rect x="723.85" y="922.5" width="3.80" height="13.1" fill="#6e6e6e"/><rect x="725.25" y="923.5" width="1.1" height="11.1" fill="#9a9a9a"/><rect x="729.55" y="849.0" width="3.80" height="20.4" rx="1.9" fill="#fff"/><rect x="729.55" y="887.8" width="3.80" height="32.0" rx="1.9" fill="#fff"/><rect x="729.55" y="938.2" width="3.80" height="20.8" rx="1.9" fill="#fff"/><rect x="729.55" y="871.6" width="3.80" height="13.4" fill="#6e6e6e"/><rect x="730.95" y="872.6" width="1.1" height="11.4" fill="#9a9a9a"/><rect x="729.55" y="922.5" width="3.80" height="13.1" fill="#6e6e6e"/><rect x="730.95" y="923.5" width="1.1" height="11.1" fill="#9a9a9a"/><rect x="735.25" y="849.0" width="3.80" height="20.4" rx="1.9" fill="#fff"/><rect x="735.25" y="887.8" width="3.80" height="32.0" rx="1.9" fill="#fff"/><rect x="735.25" y="938.2" width="3.80" height="20.8" rx="1.9" fill="#fff"/><rect x="735.25" y="871.6" width="3.80" height="13.4" fill="#6e6e6e"/><rect x="736.65" y="872.6" width="1.1" height="11.4" fill="#9a9a9a"/><rect x="735.25" y="922.5" width="3.80" height="13.1" fill="#6e6e6e"/><rect x="736.65" y="923.5" width="1.1" height="11.1" fill="#9a9a9a"/><rect x="740.95" y="849.0" width="3.80" height="20.4" rx="1.9" fill="#fff"/><rect x="740.95" y="887.8" width="3.80" height="32.0" rx="1.9" fill="#fff"/><rect x="740.95" y="938.2" width="3.80" height="20.8" rx="1.9" fill="#fff"/><rect x="740.95" y="871.6" width="3.80" height="13.4" fill="#6e6e6e"/><rect x="742.35" y="872.6" width="1.1" height="11.4" fill="#9a9a9a"/><rect x="740.95" y="922.5" width="3.80" height="13.1" fill="#6e6e6e"/><rect x="742.35" y="923.5" width="1.1" height="11.1" fill="#9a9a9a"/><rect x="746.65" y="849.0" width="3.80" height="20.4" rx="1.9" fill="#fff"/><rect x="746.65" y="887.8" width="3.80" height="32.0" rx="1.9" fill="#fff"/><rect x="746.65" y="938.2" width="3.80" height="20.8" rx="1.9" fill="#fff"/><rect x="746.65" y="871.6" width="3.80" height="13.4" fill="#6e6e6e"/><rect x="748.05" y="872.6" width="1.1" height="11.4" fill="#9a9a9a"/><rect x="746.65" y="922.5" width="3.80" height="13.1" fill="#6e6e6e"/><rect x="748.05" y="923.5" width="1.1" height="11.1" fill="#9a9a9a"/><rect x="752.35" y="849.0" width="3.80" height="20.4" rx="1.9" fill="#fff"/><rect x="752.35" y="887.8" width="3.80" height="32.0" rx="1.9" fill="#fff"/><rect x="752.35" y="938.2" width="3.80" height="20.8" rx="1.9" fill="#fff"/><rect x="752.35" y="871.6" width="3.80" height="13.4" fill="#6e6e6e"/><rect x="753.75" y="872.6" width="1.1" height="11.4" fill="#9a9a9a"/><rect x="752.35" y="922.5" width="3.80" height="13.1" fill="#6e6e6e"/><rect x="753.75" y="923.5" width="1.1" height="11.1" fill="#9a9a9a"/><rect x="758.05" y="849.0" width="3.80" height="20.4" rx="1.9" fill="#fff"/><rect x="758.05" y="887.8" width="3.80" height="32.0" rx="1.9" fill="#fff"/><rect x="758.05" y="938.2" width="3.80" height="20.8" rx="1.9" fill="#fff"/><rect x="758.05" y="871.6" width="3.80" height="13.4" fill="#6e6e6e"/><rect x="759.45" y="872.6" width="1.1" height="11.4" fill="#9a9a9a"/><rect x="758.05" y="922.5" width="3.80" height="13.1" fill="#6e6e6e"/><rect x="759.45" y="923.5" width="1.1" height="11.1" fill="#9a9a9a"/><rect x="763.75" y="849.0" width="3.80" height="20.4" rx="1.9" fill="#fff"/><rect x="763.75" y="887.8" width="3.80" height="32.0" rx="1.9" fill="#fff"/><rect x="763.75" y="938.2" width="3.80" height="20.8" rx="1.9" fill="#fff"/><rect x="763.75" y="871.6" width="3.80" height="13.4" fill="#6e6e6e"/><rect x="765.15" y="872.6" width="1.1" height="11.4" fill="#9a9a9a"/><rect x="763.75" y="922.5" width="3.80" height="13.1" fill="#6e6e6e"/><rect x="765.15" y="923.5" width="1.1" height="11.1" fill="#9a9a9a"/><rect x="769.45" y="849.0" width="3.80" height="20.4" rx="1.9" fill="#fff"/><rect x="769.45" y="887.8" width="3.80" height="32.0" rx="1.9" fill="#fff"/><rect x="769.45" y="938.2" width="3.80" height="20.8" rx="1.9" fill="#fff"/><rect x="769.45" y="871.6" width="3.80" height="13.4" fill="#6e6e6e"/><rect x="770.85" y="872.6" width="1.1" height="11.4" fill="#9a9a9a"/><rect x="769.45" y="922.5" width="3.80" height="13.1" fill="#6e6e6e"/><rect x="770.85" y="923.5" width="1.1" height="11.1" fill="#9a9a9a"/><rect x="775.15" y="849.0" width="3.80" height="20.4" rx="1.9" fill="#fff"/><rect x="775.15" y="887.8" width="3.80" height="32.0" rx="1.9" fill="#fff"/><rect x="775.15" y="938.2" width="3.80" height="20.8" rx="1.9" fill="#fff"/><rect x="775.15" y="871.6" width="3.80" height="13.4" fill="#6e6e6e"/><rect x="776.55" y="872.6" width="1.1" height="11.4" fill="#9a9a9a"/><rect x="775.15" y="922.5" width="3.80" height="13.1" fill="#6e6e6e"/><rect x="776.55" y="923.5" width="1.1" height="11.1" fill="#9a9a9a"/><rect x="780.85" y="849.0" width="3.80" height="20.4" rx="1.9" fill="#fff"/><rect x="780.85" y="887.8" width="3.80" height="32.0" rx="1.9" fill="#fff"/><rect x="780.85" y="938.2" width="3.80" height="20.8" rx="1.9" fill="#fff"/><rect x="780.85" y="871.6" width="3.80" height="13.4" fill="#6e6e6e"/><rect x="782.25" y="872.6" width="1.1" height="11.4" fill="#9a9a9a"/><rect x="780.85" y="922.5" width="3.80" height="13.1" fill="#6e6e6e"/><rect x="782.25" y="923.5" width="1.1" height="11.1" fill="#9a9a9a"/><rect x="786.55" y="849.0" width="3.80" height="20.4" rx="1.9" fill="#fff"/><rect x="786.55" y="887.8" width="3.80" height="32.0" rx="1.9" fill="#fff"/><rect x="786.55" y="938.2" width="3.80" height="20.8" rx="1.9" fill="#fff"/><rect x="786.55" y="871.6" width="3.80" height="13.4" fill="#6e6e6e"/><rect x="787.95" y="872.6" width="1.1" height="11.4" fill="#9a9a9a"/><rect x="786.55" y="922.5" width="3.80" height="13.1" fill="#6e6e6e"/><rect x="787.95" y="923.5" width="1.1" height="11.1" fill="#9a9a9a"/><rect x="792.25" y="849.0" width="3.80" height="20.4" rx="1.9" fill="#fff"/><rect x="792.25" y="887.8" width="3.80" height="32.0" rx="1.9" fill="#fff"/><rect x="792.25" y="938.2" width="3.80" height="20.8" rx="1.9" fill="#fff"/><rect x="792.25" y="871.6" width="3.80" height="13.4" fill="#6e6e6e"/><rect x="793.65" y="872.6" width="1.1" height="11.4" fill="#9a9a9a"/><rect x="792.25" y="922.5" width="3.80" height="13.1" fill="#6e6e6e"/><rect x="793.65" y="923.5" width="1.1" height="11.1" fill="#9a9a9a"/><rect x="797.95" y="849.0" width="3.80" height="20.4" rx="1.9" fill="#fff"/><rect x="797.95" y="887.8" width="3.80" height="32.0" rx="1.9" fill="#fff"/><rect x="797.95" y="938.2" width="3.80" height="20.8" rx="1.9" fill="#fff"/><rect x="797.95" y="871.6" width="3.80" height="13.4" fill="#6e6e6e"/><rect x="799.35" y="872.6" width="1.1" height="11.4" fill="#9a9a9a"/><rect x="797.95" y="922.5" width="3.80" height="13.1" fill="#6e6e6e"/><rect x="799.35" y="923.5" width="1.1" height="11.1" fill="#9a9a9a"/><rect x="803.65" y="849.0" width="3.80" height="20.4" rx="1.9" fill="#fff"/><rect x="803.65" y="887.8" width="3.80" height="32.0" rx="1.9" fill="#fff"/><rect x="803.65" y="938.2" width="3.80" height="20.8" rx="1.9" fill="#fff"/><rect x="803.65" y="871.6" width="3.80" height="13.4" fill="#6e6e6e"/><rect x="805.05" y="872.6" width="1.1" height="11.4" fill="#9a9a9a"/><rect x="803.65" y="922.5" width="3.80" height="13.1" fill="#6e6e6e"/><rect x="805.05" y="923.5" width="1.1" height="11.1" fill="#9a9a9a"/><rect x="809.35" y="849.0" width="3.80" height="20.4" rx="1.9" fill="#fff"/><rect x="809.35" y="887.8" width="3.80" height="32.0" rx="1.9" fill="#fff"/><rect x="809.35" y="938.2" width="3.80" height="20.8" rx="1.9" fill="#fff"/><rect x="809.35" y="871.6" width="3.80" height="13.4" fill="#6e6e6e"/><rect x="810.75" y="872.6" width="1.1" height="11.4" fill="#9a9a9a"/><rect x="809.35" y="922.5" width="3.80" height="13.1" fill="#6e6e6e"/><rect x="810.75" y="923.5" width="1.1" height="11.1" fill="#9a9a9a"/><rect x="815.05" y="849.0" width="3.80" height="20.4" rx="1.9" fill="#fff"/><rect x="815.05" y="887.8" width="3.80" height="32.0" rx="1.9" fill="#fff"/><rect x="815.05" y="938.2" width="3.80" height="20.8" rx="1.9" fill="#fff"/><rect x="815.05" y="871.6" width="3.80" height="13.4" fill="#6e6e6e"/><rect x="816.45" y="872.6" width="1.1" height="11.4" fill="#9a9a9a"/><rect x="815.05" y="922.5" width="3.80" height="13.1" fill="#6e6e6e"/><rect x="816.45" y="923.5" width="1.1" height="11.1" fill="#9a9a9a"/><rect x="820.75" y="849.0" width="3.80" height="20.4" rx="1.9" fill="#fff"/><rect x="820.75" y="887.8" width="3.80" height="32.0" rx="1.9" fill="#fff"/><rect x="820.75" y="938.2" width="3.80" height="20.8" rx="1.9" fill="#fff"/><rect x="820.75" y="871.6" width="3.80" height="13.4" fill="#6e6e6e"/><rect x="822.15" y="872.6" width="1.1" height="11.4" fill="#9a9a9a"/><rect x="820.75" y="922.5" width="3.80" height="13.1" fill="#6e6e6e"/><rect x="822.15" y="923.5" width="1.1" height="11.1" fill="#9a9a9a"/><rect x="826.45" y="849.0" width="3.80" height="20.4" rx="1.9" fill="#fff"/><rect x="826.45" y="887.8" width="3.80" height="32.0" rx="1.9" fill="#fff"/><rect x="826.45" y="938.2" width="3.80" height="20.8" rx="1.9" fill="#fff"/><rect x="826.45" y="871.6" width="3.80" height="13.4" fill="#6e6e6e"/><rect x="827.85" y="872.6" width="1.1" height="11.4" fill="#9a9a9a"/><rect x="826.45" y="922.5" width="3.80" height="13.1" fill="#6e6e6e"/><rect x="827.85" y="923.5" width="1.1" height="11.1" fill="#9a9a9a"/><rect x="832.15" y="849.0" width="3.80" height="20.4" rx="1.9" fill="#fff"/><rect x="832.15" y="887.8" width="3.80" height="32.0" rx="1.9" fill="#fff"/><rect x="832.15" y="938.2" width="3.80" height="20.8" rx="1.9" fill="#fff"/><rect x="832.15" y="871.6" width="3.80" height="13.4" fill="#6e6e6e"/><rect x="833.55" y="872.6" width="1.1" height="11.4" fill="#9a9a9a"/><rect x="832.15" y="922.5" width="3.80" height="13.1" fill="#6e6e6e"/><rect x="833.55" y="923.5" width="1.1" height="11.1" fill="#9a9a9a"/><rect x="837.85" y="849.0" width="3.80" height="20.4" rx="1.9" fill="#fff"/><rect x="837.85" y="887.8" width="3.80" height="32.0" rx="1.9" fill="#fff"/><rect x="837.85" y="938.2" width="3.80" height="20.8" rx="1.9" fill="#fff"/><rect x="837.85" y="871.6" width="3.80" height="13.4" fill="#6e6e6e"/><rect x="839.25" y="872.6" width="1.1" height="11.4" fill="#9a9a9a"/><rect x="837.85" y="922.5" width="3.80" height="13.1" fill="#6e6e6e"/><rect x="839.25" y="923.5" width="1.1" height="11.1" fill="#9a9a9a"/><rect x="843.55" y="849.0" width="3.80" height="20.4" rx="1.9" fill="#fff"/><rect x="843.55" y="887.8" width="3.80" height="32.0" rx="1.9" fill="#fff"/><rect x="843.55" y="938.2" width="3.80" height="20.8" rx="1.9" fill="#fff"/><rect x="843.55" y="871.6" width="3.80" height="13.4" fill="#6e6e6e"/><rect x="844.95" y="872.6" width="1.1" height="11.4" fill="#9a9a9a"/><rect x="843.55" y="922.5" width="3.80" height="13.1" fill="#6e6e6e"/><rect x="844.95" y="923.5" width="1.1" height="11.1" fill="#9a9a9a"/><rect x="849.25" y="849.0" width="3.80" height="20.4" rx="1.9" fill="#fff"/><rect x="849.25" y="887.8" width="3.80" height="32.0" rx="1.9" fill="#fff"/><rect x="849.25" y="938.2" width="3.80" height="20.8" rx="1.9" fill="#fff"/><rect x="849.25" y="871.6" width="3.80" height="13.4" fill="#6e6e6e"/><rect x="850.65" y="872.6" width="1.1" height="11.4" fill="#9a9a9a"/><rect x="849.25" y="922.5" width="3.80" height="13.1" fill="#6e6e6e"/><rect x="850.65" y="923.5" width="1.1" height="11.1" fill="#9a9a9a"/><rect x="854.95" y="849.0" width="3.80" height="20.4" rx="1.9" fill="#fff"/><rect x="854.95" y="887.8" width="3.80" height="32.0" rx="1.9" fill="#fff"/><rect x="854.95" y="938.2" width="3.80" height="20.8" rx="1.9" fill="#fff"/><rect x="854.95" y="871.6" width="3.80" height="13.4" fill="#6e6e6e"/><rect x="856.35" y="872.6" width="1.1" height="11.4" fill="#9a9a9a"/><rect x="854.95" y="922.5" width="3.80" height="13.1" fill="#6e6e6e"/><rect x="856.35" y="923.5" width="1.1" height="11.1" fill="#9a9a9a"/><rect x="860.65" y="849.0" width="3.80" height="20.4" rx="1.9" fill="#fff"/><rect x="860.65" y="887.8" width="3.80" height="32.0" rx="1.9" fill="#fff"/><rect x="860.65" y="938.2" width="3.80" height="20.8" rx="1.9" fill="#fff"/><rect x="860.65" y="871.6" width="3.80" height="13.4" fill="#6e6e6e"/><rect x="862.05" y="872.6" width="1.1" height="11.4" fill="#9a9a9a"/><rect x="860.65" y="922.5" width="3.80" height="13.1" fill="#6e6e6e"/><rect x="862.05" y="923.5" width="1.1" height="11.1" fill="#9a9a9a"/><rect x="866.35" y="849.0" width="3.80" height="20.4" rx="1.9" fill="#fff"/><rect x="866.35" y="887.8" width="3.80" height="32.0" rx="1.9" fill="#fff"/><rect x="866.35" y="938.2" width="3.80" height="20.8" rx="1.9" fill="#fff"/><rect x="866.35" y="871.6" width="3.80" height="13.4" fill="#6e6e6e"/><rect x="867.75" y="872.6" width="1.1" height="11.4" fill="#9a9a9a"/><rect x="866.35" y="922.5" width="3.80" height="13.1" fill="#6e6e6e"/><rect x="867.75" y="923.5" width="1.1" height="11.1" fill="#9a9a9a"/><rect x="872.05" y="849.0" width="3.80" height="20.4" rx="1.9" fill="#fff"/><rect x="872.05" y="887.8" width="3.80" height="32.0" rx="1.9" fill="#fff"/><rect x="872.05" y="938.2" width="3.80" height="20.8" rx="1.9" fill="#fff"/><rect x="872.05" y="871.6" width="3.80" height="13.4" fill="#6e6e6e"/><rect x="873.45" y="872.6" width="1.1" height="11.4" fill="#9a9a9a"/><rect x="872.05" y="922.5" width="3.80" height="13.1" fill="#6e6e6e"/><rect x="873.45" y="923.5" width="1.1" height="11.1" fill="#9a9a9a"/><rect x="877.75" y="849.0" width="3.80" height="20.4" rx="1.9" fill="#fff"/><rect x="877.75" y="887.8" width="3.80" height="32.0" rx="1.9" fill="#fff"/><rect x="877.75" y="938.2" width="3.80" height="20.8" rx="1.9" fill="#fff"/><rect x="877.75" y="871.6" width="3.80" height="13.4" fill="#6e6e6e"/><rect x="879.15" y="872.6" width="1.1" height="11.4" fill="#9a9a9a"/><rect x="877.75" y="922.5" width="3.80" height="13.1" fill="#6e6e6e"/><rect x="879.15" y="923.5" width="1.1" height="11.1" fill="#9a9a9a"/><rect x="883.45" y="849.0" width="5.15" height="20.4" rx="1.9" fill="#fff"/><rect x="883.45" y="887.8" width="5.15" height="32.0" rx="1.9" fill="#fff"/><rect x="883.45" y="938.2" width="5.15" height="20.8" rx="1.9" fill="#fff"/><rect x="883.45" y="871.6" width="5.15" height="13.4" fill="#6e6e6e"/><rect x="885.52" y="872.6" width="1.1" height="11.4" fill="#9a9a9a"/><rect x="883.45" y="922.5" width="5.15" height="13.1" fill="#6e6e6e"/><rect x="885.52" y="923.5" width="1.1" height="11.1" fill="#9a9a9a"/></g>
<path d="M295.40 853.2V853.3M295.40 954.6V954.7M301.10 853.2V853.3M301.10 954.6V954.7M306.80 853.2V853.3M306.80 954.6V954.7M312.50 853.2V853.3M312.50 954.6V954.7M318.20 853.2V853.3M318.20 954.6V954.7M323.90 853.2V853.3M323.90 954.6V954.7M329.60 853.2V853.3M329.60 954.6V954.7M335.30 853.2V853.3M335.30 954.6V954.7M341.00 853.2V853.3M341.00 954.6V954.7M346.70 853.2V853.3M346.70 954.6V954.7M352.40 853.2V853.3M352.40 954.6V954.7M358.10 853.2V853.3M358.10 954.6V954.7M363.80 853.2V853.3M363.80 954.6V954.7M369.50 853.2V853.3M369.50 954.6V954.7M375.20 853.2V853.3M375.20 954.6V954.7M380.90 853.2V853.3M380.90 954.6V954.7M386.60 853.2V853.3M386.60 954.6V954.7M392.30 853.2V853.3M392.30 954.6V954.7M398.00 853.2V853.3M398.00 954.6V954.7M403.70 853.2V853.3M403.70 954.6V954.7M409.40 853.2V853.3M409.40 954.6V954.7M415.10 853.2V853.3M415.10 954.6V954.7M420.80 853.2V853.3M420.80 954.6V954.7M426.50 853.2V853.3M426.50 954.6V954.7M432.20 853.2V853.3M432.20 954.6V954.7M437.90 853.2V853.3M437.90 954.6V954.7M443.60 853.2V853.3M443.60 954.6V954.7M449.30 853.2V853.3M449.30 954.6V954.7M455.00 853.2V853.3M455.00 954.6V954.7M460.70 853.2V853.3M460.70 954.6V954.7M466.40 853.2V853.3M466.40 954.6V954.7M472.10 853.2V853.3M472.10 954.6V954.7M477.80 853.2V853.3M477.80 954.6V954.7M483.50 853.2V853.3M483.50 954.6V954.7M489.20 853.2V853.3M489.20 954.6V954.7M494.90 853.2V853.3M494.90 954.6V954.7M500.60 853.2V853.3M500.60 954.6V954.7M506.30 853.2V853.3M506.30 954.6V954.7M512.00 853.2V853.3M512.00 954.6V954.7M517.70 853.2V853.3M517.70 954.6V954.7M523.40 853.2V853.3M523.40 954.6V954.7M529.10 853.2V853.3M529.10 954.6V954.7M534.80 853.2V853.3M534.80 954.6V954.7M540.50 853.2V853.3M540.50 954.6V954.7M546.20 853.2V853.3M546.20 954.6V954.7M551.90 853.2V853.3M551.90 954.6V954.7M557.60 853.2V853.3M557.60 954.6V954.7M563.30 853.2V853.3M563.30 954.6V954.7M569.00 853.2V853.3M569.00 954.6V954.7M574.70 853.2V853.3M574.70 954.6V954.7M580.40 853.2V853.3M580.40 954.6V954.7M586.10 853.2V853.3M586.10 954.6V954.7M591.80 853.2V853.3M591.80 954.6V954.7M597.50 853.2V853.3M597.50 954.6V954.7M603.20 853.2V853.3M603.20 954.6V954.7M608.90 853.2V853.3M608.90 954.6V954.7M614.60 853.2V853.3M614.60 954.6V954.7M620.30 853.2V853.3M620.30 954.6V954.7M626.00 853.2V853.3M626.00 954.6V954.7M631.70 853.2V853.3M631.70 954.6V954.7M637.40 853.2V853.3M637.40 954.6V954.7M643.10 853.2V853.3M643.10 954.6V954.7M648.80 853.2V853.3M648.80 954.6V954.7M654.50 853.2V853.3M654.50 954.6V954.7M660.20 853.2V853.3M660.20 954.6V954.7M665.90 853.2V853.3M665.90 954.6V954.7M671.60 853.2V853.3M671.60 954.6V954.7M677.30 853.2V853.3M677.30 954.6V954.7M683.00 853.2V853.3M683.00 954.6V954.7M688.70 853.2V853.3M688.70 954.6V954.7M694.40 853.2V853.3M694.40 954.6V954.7M700.10 853.2V853.3M700.10 954.6V954.7M705.80 853.2V853.3M705.80 954.6V954.7M711.50 853.2V853.3M711.50 954.6V954.7M717.20 853.2V853.3M717.20 954.6V954.7M722.90 853.2V853.3M722.90 954.6V954.7M728.60 853.2V853.3M728.60 954.6V954.7M734.30 853.2V853.3M734.30 954.6V954.7M740.00 853.2V853.3M740.00 954.6V954.7M745.70 853.2V853.3M745.70 954.6V954.7M751.40 853.2V853.3M751.40 954.6V954.7M757.10 853.2V853.3M757.10 954.6V954.7M762.80 853.2V853.3M762.80 954.6V954.7M768.50 853.2V853.3M768.50 954.6V954.7M774.20 853.2V853.3M774.20 954.6V954.7M779.90 853.2V853.3M779.90 954.6V954.7M785.60 853.2V853.3M785.60 954.6V954.7M791.30 853.2V853.3M791.30 954.6V954.7M797.00 853.2V853.3M797.00 954.6V954.7M802.70 853.2V853.3M802.70 954.6V954.7M808.40 853.2V853.3M808.40 954.6V954.7M814.10 853.2V853.3M814.10 954.6V954.7M819.80 853.2V853.3M819.80 954.6V954.7M825.50 853.2V853.3M825.50 954.6V954.7M831.20 853.2V853.3M831.20 954.6V954.7M836.90 853.2V853.3M836.90 954.6V954.7M842.60 853.2V853.3M842.60 954.6V954.7M848.30 853.2V853.3M848.30 954.6V954.7M854.00 853.2V853.3M854.00 954.6V954.7M859.70 853.2V853.3M859.70 954.6V954.7M865.40 853.2V853.3M865.40 954.6V954.7M871.10 853.2V853.3M871.10 954.6V954.7M876.80 853.2V853.3M876.80 954.6V954.7M882.50 853.2V853.3M882.50 954.6V954.7" stroke="#161616" stroke-width="1.9" stroke-linecap="round"/>
  
  <!-- fin screws -->
  <g fill="#fff" stroke="#222" stroke-width="1.3">
    <circle cx="335.2" cy="906.7" r="2.8"/>
    <circle cx="335.2" cy="946.5" r="2.8"/>
    <circle cx="798.6" cy="914.7" r="2.8"/>
    <circle cx="732" cy="906.6" r="2.8"/>
    <circle cx="732" cy="946.5" r="2.8"/>
  </g>
  <!-- U bend -->
  <g fill="#fff" stroke="#222" stroke-width="1.4">
    <path d="M891.2 870.8H905.2A33.4 33.4 0 0 1 905.2 937.6H891.2V921.4H905.2A17.2 17.2 0 0 0 905.2 887H891.2Z"/>
    <line x1="905.2" y1="870.8" x2="905.2" y2="887"/>
    <line x1="905.2" y1="921.4" x2="905.2" y2="937.6"/>
    <circle cx="914.8" cy="914.8" r="3" stroke-width="1.2"/>
  </g>
</g>

<g fill="none">
  <line x1="761.3" y1="852" x2="761.3" y2="964" stroke="#777" stroke-width="1"/>
  <line x1="774.2" y1="852" x2="774.2" y2="964" stroke="#222" stroke-width="2.2"/>
  <rect x="764.8" y="956" width="7" height="5.4" rx="1.5" stroke="#111" stroke-width="1.4" fill="#fff"/>
</g>
<g stroke="#111">
  <circle cx="285.2" cy="863" r="2.6" stroke-width="1.6" fill="#fff"/>
  <circle cx="768.2" cy="862.6" r="2.8" stroke-width="1.2" fill="#222"/>
  <circle cx="805.7" cy="846.8" r="7.6" fill="#fff" stroke-width="1.2"/>
  <path d="M806.3 839.2V846.7H813.3" fill="none" stroke-width="2"/>
  <circle cx="809.5" cy="843.4" r="3.2" fill="#222" stroke="none"/>
  <circle cx="805.7" cy="846.8" r="1.8" fill="#666" stroke="none"/>
</g>
<!-- ===== LEFT FITTINGS ===== -->
<g id="fittings" fill="#fff" stroke="#222" stroke-width="1.4">
  <!-- upper -->
  <rect x="278" y="870.4" width="14" height="15.6"/>
  <rect x="269.1" y="868.2" width="9.3" height="21" rx="1"/>
  <line x1="269.1" y1="878.6" x2="278.4" y2="878.6" stroke-width="1"/>
  <rect x="250.6" y="866" width="18.5" height="25.3" rx="1.5"/>
  <!-- lower -->
  <rect x="278" y="922" width="14" height="15.3"/>
  <rect x="243" y="918.2" width="35" height="22.2" rx="3"/>
  <circle cx="259.9" cy="929.2" r="11" stroke-width="2.4"/>
  <circle cx="259.9" cy="929.2" r="7.2" stroke-width="1.2"/>
  <circle cx="259.9" cy="929.2" r="3.6" stroke-width="1.2" fill="#666"/>
  <rect x="232.9" y="919.3" width="10.1" height="20.5" rx="1"/>
  <line x1="232.9" y1="929.5" x2="243" y2="929.5" stroke-width="1"/>
  <rect x="214.3" y="917" width="18.6" height="25.3" rx="1.5"/>
</g>

<!-- ===== DIMENSIONS ===== -->
<g id="dims" stroke="#111" stroke-width="2.2" fill="none" stroke-dasharray="15 5.3">
  <line x1="58.6" y1="982.7" x2="58.6" y2="1100"/>
  <line x1="72.3" y1="972.2" x2="72.3" y2="1048"/>
  <line x1="214.2" y1="950.5" x2="214.2" y2="1048" stroke-dasharray="13.7 8.2 13.7 5.3 15 5.3 15 5.3 15 5.3"/>
  <line x1="291.1" y1="972.2" x2="291.1" y2="1048"/>
  <line x1="890.2" y1="972.2" x2="890.2" y2="1048"/>
  <line x1="974.7" y1="982.7" x2="974.7" y2="1100"/>
</g>
<g id="arrows" stroke="#111" stroke-width="2.5" fill="#111">
  <line x1="80" y1="1040.3" x2="205" y2="1040.3"/>
  <line x1="300" y1="1040.3" x2="880" y2="1040.3"/>
  <line x1="66" y1="1092" x2="966" y2="1092"/>
  <g stroke="none">
    <path d="M73.4 1040.3L95 1032.7V1047.9Z"/>
    <path d="M212.6 1040.3L191 1032.7V1047.9Z"/>
    <path d="M292.7 1040.3L313.4 1032.9V1047.7Z"/>
    <path d="M888.7 1040.3L868.3 1032.9V1047.7Z"/>
    <path d="M59.8 1092L80.5 1084.8V1099.2Z"/>
    <path d="M973.3 1092L952.4 1084.8V1099.2Z"/>
  </g>
</g>
<g id="dimtext" font-size="17.7">
  <text id="d0" x="110" y="1026.5">макс</text>
  <text id="d2" x="152.3" y="1026.5">L</text>
  <text x="161.8" y="1028.6" font-size="8.5">1</text>
  <text x="161" y="1025" font-size="16" style="fill:#d2507c">*</text>
  <text id="d3" x="541.4" y="1026.7">L</text>
  <text x="551.3" y="1028.6" font-size="9">то</text>
  <text id="d1" x="561.8" y="1026.7" textLength="82.2" lengthAdjust="spacingAndGlyphs">= L - 30 см</text>
  <text id="d4" x="521.5" y="1080.3">L</text>
  <text x="552.8" y="1115.3" font-size="16" style="fill:#d2507c">*</text>
  <text id="f0" x="560" y="1115.5" font-size="16.8" textLength="411.5" lengthAdjust="spacingAndGlyphs">макс L1: 15 см для H08 и H11; 16,5 см для H14 и H19</text>
</g>
<!-- ===== WATERMARKS ===== -->
<defs>
  <filter id="blur1" x="-50%" y="-10%" width="200%" height="120%"><feGaussianBlur stdDeviation="1.6"/></filter>
  <filter id="blur2" x="-10%" y="-10%" width="120%" height="120%"><feGaussianBlur stdDeviation="0.6"/></filter>
</defs>
<g id="faint" stroke="#cfd6e0" stroke-width="1">
  <line x1="21" y1="1114" x2="21" y2="1127"/>
  <line x1="23.6" y1="1114" x2="23.6" y2="1127"/>
</g>
<rect x="28" y="1113" width="322" height="14" fill="#fdfdfd"/>
<!-- vertical watermark text (right) -->
<g filter="url(#blur1)">
  <rect x="1002" y="1254" width="12" height="102" rx="5" fill="#f1f1f1"/>
</g>
<g stroke="#fff" stroke-width="1.2" fill="none">
  <rect x="1004.5" y="1258" width="6.5" height="11"/>
  <rect x="1004.5" y="1272" width="6.5" height="9"/>
  <rect x="1004.5" y="1290" width="6.5" height="10"/>
  <line x1="1007.8" y1="1300" x2="1007.8" y2="1310"/>
  <rect x="1004.5" y="1312" width="6.5" height="9"/>
  <rect x="1004.5" y="1326" width="6.5" height="11"/>
  <rect x="1004.5" y="1342" width="6.5" height="11"/>
</g>
<!-- plumber figure (light blue) -->
<g filter="url(#blur2)">
  <path d="M32 1251 Q40 1248 48.6 1252 L48 1262 L44 1262 L40 1256 L34 1258 L33 1266 Z" fill="#c6def0"/>
  <path d="M35 1258 Q34 1268 40 1271 Q46 1270 48 1262 L46 1256 Z" fill="#f2f7fb" stroke="#c8dff0" stroke-width="0.8"/>
  <path d="M33 1270 L14 1282 Q9 1293 11 1308 L20 1309 L22 1314 L22 1348 L30 1349 L34 1345 L43 1345 L44 1314 L50 1300 L62 1298 L68.6 1294 Q66 1279 56 1272 L46 1271 L42 1276 L38 1271 Z" fill="#cfe5f4"/>
  <path d="M38 1274 L41 1290 L45 1276 Z" fill="#f4f8fb"/>
  <path d="M13 1306 Q20 1302 30 1299 L36 1303 L28 1309 Q20 1310 13 1309 Z" fill="#f6f9fc" stroke="#cfe0ee" stroke-width="0.6"/>
  <!-- toilet -->
  <path d="M50 1297 L67 1297 L68.5 1317 L49 1317 Z" fill="#fff" stroke="#d6d8dc" stroke-width="0.8"/>
  <path d="M48 1318 Q63 1315 79.5 1319 L78 1325 L72 1340 L71 1352 L54 1352 L53 1340 L50 1336 L51 1328 L48 1323 Z" fill="#fff" stroke="#d6d8dc" stroke-width="0.8"/>
  <line x1="49" y1="1322" x2="79" y2="1322" stroke="#dcdee2" stroke-width="0.7"/>
</g>

</svg>
</body></html>
